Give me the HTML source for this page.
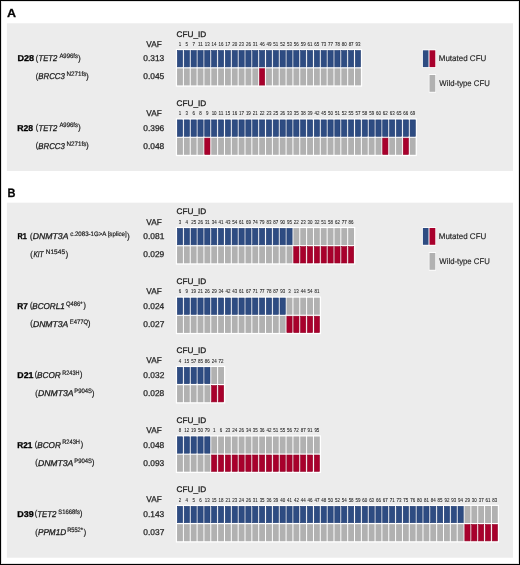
<!DOCTYPE html>
<html><head><meta charset="utf-8"><style>
html,body{margin:0;padding:0;background:#fff;overflow:hidden;width:520px;height:565px;}
svg{display:block;will-change:transform;}
text{text-rendering:geometricPrecision;font-family:"Liberation Sans",sans-serif;fill:#1e1e1e;stroke:#1e1e1e;stroke-width:0.3px;}
</style></head><body>
<svg width="520" height="565" viewBox="0 0 520 565">
<rect x="0" y="0" width="520" height="565" fill="#fff"/>
<rect x="1.5" y="1.5" width="517" height="562" fill="none" stroke="#e2e2e2" stroke-width="1"/>
<rect x="0.5" y="0.5" width="519" height="564" fill="none" stroke="#000" stroke-width="1"/>
<rect x="6.9" y="23.3" width="506.1" height="147.7" fill="#ececec"/>
<text x="7.09" y="16.80" textLength="9.04" lengthAdjust="spacingAndGlyphs" style="font-size:11.77px;font-weight:bold;fill:#000;">A</text>
<rect x="175.80" y="49.00" width="186.32" height="37.70" fill="#fff"/>
<rect x="177.35" y="50.50" width="5.25" height="16.40" fill="#2e4c82" stroke="#203c72" stroke-width="0.6"/>
<rect x="177.05" y="68.40" width="5.85" height="17.0" fill="#b1b1b1"/>
<text x="178.67" y="45.80" textLength="2.48" lengthAdjust="spacingAndGlyphs" style="font-size:4.85px;stroke:#262626;stroke-width:0.08px;text-rendering:optimizeLegibility;fill:#262626;">1</text>
<rect x="184.20" y="50.50" width="5.25" height="16.40" fill="#2e4c82" stroke="#203c72" stroke-width="0.6"/>
<rect x="183.90" y="68.40" width="5.85" height="17.0" fill="#b1b1b1"/>
<text x="185.58" y="45.80" textLength="2.48" lengthAdjust="spacingAndGlyphs" style="font-size:4.85px;stroke:#262626;stroke-width:0.08px;text-rendering:optimizeLegibility;fill:#262626;">5</text>
<rect x="191.04" y="50.50" width="5.25" height="16.40" fill="#2e4c82" stroke="#203c72" stroke-width="0.6"/>
<rect x="190.74" y="68.40" width="5.85" height="17.0" fill="#b1b1b1"/>
<text x="192.42" y="45.80" textLength="2.48" lengthAdjust="spacingAndGlyphs" style="font-size:4.85px;stroke:#262626;stroke-width:0.08px;text-rendering:optimizeLegibility;fill:#262626;">7</text>
<rect x="197.89" y="50.50" width="5.25" height="16.40" fill="#2e4c82" stroke="#203c72" stroke-width="0.6"/>
<rect x="197.59" y="68.40" width="5.85" height="17.0" fill="#b1b1b1"/>
<text x="197.97" y="45.80" textLength="4.96" lengthAdjust="spacingAndGlyphs" style="font-size:4.85px;stroke:#262626;stroke-width:0.08px;text-rendering:optimizeLegibility;fill:#262626;">11</text>
<rect x="204.73" y="50.50" width="5.25" height="16.40" fill="#2e4c82" stroke="#203c72" stroke-width="0.6"/>
<rect x="204.43" y="68.40" width="5.85" height="17.0" fill="#b1b1b1"/>
<text x="204.80" y="45.80" textLength="4.96" lengthAdjust="spacingAndGlyphs" style="font-size:4.85px;stroke:#262626;stroke-width:0.08px;text-rendering:optimizeLegibility;fill:#262626;">13</text>
<rect x="211.58" y="50.50" width="5.25" height="16.40" fill="#2e4c82" stroke="#203c72" stroke-width="0.6"/>
<rect x="211.28" y="68.40" width="5.85" height="17.0" fill="#b1b1b1"/>
<text x="211.61" y="45.80" textLength="4.96" lengthAdjust="spacingAndGlyphs" style="font-size:4.85px;stroke:#262626;stroke-width:0.08px;text-rendering:optimizeLegibility;fill:#262626;">14</text>
<rect x="218.42" y="50.50" width="5.25" height="16.40" fill="#2e4c82" stroke="#203c72" stroke-width="0.6"/>
<rect x="218.12" y="68.40" width="5.85" height="17.0" fill="#b1b1b1"/>
<text x="218.49" y="45.80" textLength="4.96" lengthAdjust="spacingAndGlyphs" style="font-size:4.85px;stroke:#262626;stroke-width:0.08px;text-rendering:optimizeLegibility;fill:#262626;">16</text>
<rect x="225.27" y="50.50" width="5.25" height="16.40" fill="#2e4c82" stroke="#203c72" stroke-width="0.6"/>
<rect x="224.97" y="68.40" width="5.85" height="17.0" fill="#b1b1b1"/>
<text x="225.35" y="45.80" textLength="4.96" lengthAdjust="spacingAndGlyphs" style="font-size:4.85px;stroke:#262626;stroke-width:0.08px;text-rendering:optimizeLegibility;fill:#262626;">17</text>
<rect x="232.11" y="50.50" width="5.25" height="16.40" fill="#2e4c82" stroke="#203c72" stroke-width="0.6"/>
<rect x="231.81" y="68.40" width="5.85" height="17.0" fill="#b1b1b1"/>
<text x="232.23" y="45.80" textLength="4.96" lengthAdjust="spacingAndGlyphs" style="font-size:4.85px;stroke:#262626;stroke-width:0.08px;text-rendering:optimizeLegibility;fill:#262626;">20</text>
<rect x="238.96" y="50.50" width="5.25" height="16.40" fill="#2e4c82" stroke="#203c72" stroke-width="0.6"/>
<rect x="238.66" y="68.40" width="5.85" height="17.0" fill="#b1b1b1"/>
<text x="239.08" y="45.80" textLength="4.96" lengthAdjust="spacingAndGlyphs" style="font-size:4.85px;stroke:#262626;stroke-width:0.08px;text-rendering:optimizeLegibility;fill:#262626;">23</text>
<rect x="245.80" y="50.50" width="5.25" height="16.40" fill="#2e4c82" stroke="#203c72" stroke-width="0.6"/>
<rect x="245.50" y="68.40" width="5.85" height="17.0" fill="#b1b1b1"/>
<text x="245.93" y="45.80" textLength="4.96" lengthAdjust="spacingAndGlyphs" style="font-size:4.85px;stroke:#262626;stroke-width:0.08px;text-rendering:optimizeLegibility;fill:#262626;">26</text>
<rect x="252.65" y="50.50" width="5.25" height="16.40" fill="#2e4c82" stroke="#203c72" stroke-width="0.6"/>
<rect x="252.35" y="68.40" width="5.85" height="17.0" fill="#b1b1b1"/>
<text x="252.81" y="45.80" textLength="4.96" lengthAdjust="spacingAndGlyphs" style="font-size:4.85px;stroke:#262626;stroke-width:0.08px;text-rendering:optimizeLegibility;fill:#262626;">31</text>
<rect x="259.49" y="50.50" width="5.25" height="16.40" fill="#2e4c82" stroke="#203c72" stroke-width="0.6"/>
<rect x="259.49" y="68.70" width="5.25" height="16.40" fill="#a8002c" stroke="#940026" stroke-width="0.6"/>
<text x="259.68" y="45.80" textLength="4.96" lengthAdjust="spacingAndGlyphs" style="font-size:4.85px;stroke:#262626;stroke-width:0.08px;text-rendering:optimizeLegibility;fill:#262626;">46</text>
<rect x="266.34" y="50.50" width="5.25" height="16.40" fill="#2e4c82" stroke="#203c72" stroke-width="0.6"/>
<rect x="266.04" y="68.40" width="5.85" height="17.0" fill="#b1b1b1"/>
<text x="266.53" y="45.80" textLength="4.96" lengthAdjust="spacingAndGlyphs" style="font-size:4.85px;stroke:#262626;stroke-width:0.08px;text-rendering:optimizeLegibility;fill:#262626;">49</text>
<rect x="273.18" y="50.50" width="5.25" height="16.40" fill="#2e4c82" stroke="#203c72" stroke-width="0.6"/>
<rect x="272.88" y="68.40" width="5.85" height="17.0" fill="#b1b1b1"/>
<text x="273.34" y="45.80" textLength="4.96" lengthAdjust="spacingAndGlyphs" style="font-size:4.85px;stroke:#262626;stroke-width:0.08px;text-rendering:optimizeLegibility;fill:#262626;">51</text>
<rect x="280.03" y="50.50" width="5.25" height="16.40" fill="#2e4c82" stroke="#203c72" stroke-width="0.6"/>
<rect x="279.73" y="68.40" width="5.85" height="17.0" fill="#b1b1b1"/>
<text x="280.19" y="45.80" textLength="4.96" lengthAdjust="spacingAndGlyphs" style="font-size:4.85px;stroke:#262626;stroke-width:0.08px;text-rendering:optimizeLegibility;fill:#262626;">52</text>
<rect x="286.87" y="50.50" width="5.25" height="16.40" fill="#2e4c82" stroke="#203c72" stroke-width="0.6"/>
<rect x="286.57" y="68.40" width="5.85" height="17.0" fill="#b1b1b1"/>
<text x="287.02" y="45.80" textLength="4.96" lengthAdjust="spacingAndGlyphs" style="font-size:4.85px;stroke:#262626;stroke-width:0.08px;text-rendering:optimizeLegibility;fill:#262626;">53</text>
<rect x="293.72" y="50.50" width="5.25" height="16.40" fill="#2e4c82" stroke="#203c72" stroke-width="0.6"/>
<rect x="293.42" y="68.40" width="5.85" height="17.0" fill="#b1b1b1"/>
<text x="293.87" y="45.80" textLength="4.96" lengthAdjust="spacingAndGlyphs" style="font-size:4.85px;stroke:#262626;stroke-width:0.08px;text-rendering:optimizeLegibility;fill:#262626;">56</text>
<rect x="300.56" y="50.50" width="5.25" height="16.40" fill="#2e4c82" stroke="#203c72" stroke-width="0.6"/>
<rect x="300.26" y="68.40" width="5.85" height="17.0" fill="#b1b1b1"/>
<text x="300.72" y="45.80" textLength="4.96" lengthAdjust="spacingAndGlyphs" style="font-size:4.85px;stroke:#262626;stroke-width:0.08px;text-rendering:optimizeLegibility;fill:#262626;">59</text>
<rect x="307.41" y="50.50" width="5.25" height="16.40" fill="#2e4c82" stroke="#203c72" stroke-width="0.6"/>
<rect x="307.11" y="68.40" width="5.85" height="17.0" fill="#b1b1b1"/>
<text x="307.54" y="45.80" textLength="4.96" lengthAdjust="spacingAndGlyphs" style="font-size:4.85px;stroke:#262626;stroke-width:0.08px;text-rendering:optimizeLegibility;fill:#262626;">61</text>
<rect x="314.25" y="50.50" width="5.25" height="16.40" fill="#2e4c82" stroke="#203c72" stroke-width="0.6"/>
<rect x="313.95" y="68.40" width="5.85" height="17.0" fill="#b1b1b1"/>
<text x="314.37" y="45.80" textLength="4.96" lengthAdjust="spacingAndGlyphs" style="font-size:4.85px;stroke:#262626;stroke-width:0.08px;text-rendering:optimizeLegibility;fill:#262626;">65</text>
<rect x="321.10" y="50.50" width="5.25" height="16.40" fill="#2e4c82" stroke="#203c72" stroke-width="0.6"/>
<rect x="320.80" y="68.40" width="5.85" height="17.0" fill="#b1b1b1"/>
<text x="321.22" y="45.80" textLength="4.96" lengthAdjust="spacingAndGlyphs" style="font-size:4.85px;stroke:#262626;stroke-width:0.08px;text-rendering:optimizeLegibility;fill:#262626;">73</text>
<rect x="327.94" y="50.50" width="5.25" height="16.40" fill="#2e4c82" stroke="#203c72" stroke-width="0.6"/>
<rect x="327.64" y="68.40" width="5.85" height="17.0" fill="#b1b1b1"/>
<text x="328.08" y="45.80" textLength="4.96" lengthAdjust="spacingAndGlyphs" style="font-size:4.85px;stroke:#262626;stroke-width:0.08px;text-rendering:optimizeLegibility;fill:#262626;">77</text>
<rect x="334.79" y="50.50" width="5.25" height="16.40" fill="#2e4c82" stroke="#203c72" stroke-width="0.6"/>
<rect x="334.49" y="68.40" width="5.85" height="17.0" fill="#b1b1b1"/>
<text x="334.91" y="45.80" textLength="4.96" lengthAdjust="spacingAndGlyphs" style="font-size:4.85px;stroke:#262626;stroke-width:0.08px;text-rendering:optimizeLegibility;fill:#262626;">78</text>
<rect x="341.63" y="50.50" width="5.25" height="16.40" fill="#2e4c82" stroke="#203c72" stroke-width="0.6"/>
<rect x="341.33" y="68.40" width="5.85" height="17.0" fill="#b1b1b1"/>
<text x="341.76" y="45.80" textLength="4.96" lengthAdjust="spacingAndGlyphs" style="font-size:4.85px;stroke:#262626;stroke-width:0.08px;text-rendering:optimizeLegibility;fill:#262626;">80</text>
<rect x="348.48" y="50.50" width="5.25" height="16.40" fill="#2e4c82" stroke="#203c72" stroke-width="0.6"/>
<rect x="348.18" y="68.40" width="5.85" height="17.0" fill="#b1b1b1"/>
<text x="348.63" y="45.80" textLength="4.96" lengthAdjust="spacingAndGlyphs" style="font-size:4.85px;stroke:#262626;stroke-width:0.08px;text-rendering:optimizeLegibility;fill:#262626;">87</text>
<rect x="355.32" y="50.50" width="5.25" height="16.40" fill="#2e4c82" stroke="#203c72" stroke-width="0.6"/>
<rect x="355.02" y="68.40" width="5.85" height="17.0" fill="#b1b1b1"/>
<text x="355.46" y="45.80" textLength="4.96" lengthAdjust="spacingAndGlyphs" style="font-size:4.85px;stroke:#262626;stroke-width:0.08px;text-rendering:optimizeLegibility;fill:#262626;">93</text>
<text x="176.58" y="36.50" textLength="29.61" lengthAdjust="spacingAndGlyphs" style="font-size:8.14px;">CFU_ID</text>
<text x="146.37" y="46.60" textLength="15.45" lengthAdjust="spacingAndGlyphs" style="font-size:8.43px;stroke-width:0.25px;">VAF</text>
<text x="17.49" y="61.20" textLength="16.69" lengthAdjust="spacingAndGlyphs" style="font-size:8.50px;stroke:#000;font-weight:bold;fill:#000;">D28</text>
<text x="35.86" y="60.50" textLength="2.39" lengthAdjust="spacingAndGlyphs" style="font-size:8.30px;stroke-width:0.3px;">(</text>
<text x="38.51" y="61.20" textLength="18.80" lengthAdjust="spacingAndGlyphs" style="font-size:8.50px;stroke-width:0.3px;font-style:italic;">TET2</text>
<text x="59.39" y="58.00" textLength="18.63" lengthAdjust="spacingAndGlyphs" style="font-size:6.40px;stroke-width:0.2px;">A996fs</text>
<text x="78.16" y="60.50" textLength="2.39" lengthAdjust="spacingAndGlyphs" style="font-size:8.30px;stroke-width:0.3px;">)</text>
<text x="35.86" y="78.60" textLength="2.39" lengthAdjust="spacingAndGlyphs" style="font-size:8.30px;stroke-width:0.3px;">(</text>
<text x="38.36" y="79.30" textLength="26.41" lengthAdjust="spacingAndGlyphs" style="font-size:8.50px;stroke-width:0.3px;font-style:italic;">BRCC3</text>
<text x="66.49" y="76.10" textLength="19.84" lengthAdjust="spacingAndGlyphs" style="font-size:6.40px;stroke-width:0.2px;">N271fs</text>
<text x="86.16" y="78.60" textLength="2.39" lengthAdjust="spacingAndGlyphs" style="font-size:8.30px;stroke-width:0.3px;">)</text>
<text x="143.31" y="61.20" style="font-size:8.40px;stroke-width:0.25px;">0.313</text>
<text x="143.30" y="79.30" style="font-size:8.40px;stroke-width:0.25px;">0.045</text>
<rect x="175.80" y="118.40" width="241.08" height="37.70" fill="#fff"/>
<rect x="177.35" y="119.90" width="5.25" height="16.40" fill="#2e4c82" stroke="#203c72" stroke-width="0.6"/>
<rect x="177.05" y="137.80" width="5.85" height="17.0" fill="#b1b1b1"/>
<text x="178.67" y="115.20" textLength="2.48" lengthAdjust="spacingAndGlyphs" style="font-size:4.85px;stroke:#262626;stroke-width:0.08px;text-rendering:optimizeLegibility;fill:#262626;">1</text>
<rect x="184.20" y="119.90" width="5.25" height="16.40" fill="#2e4c82" stroke="#203c72" stroke-width="0.6"/>
<rect x="183.90" y="137.80" width="5.85" height="17.0" fill="#b1b1b1"/>
<text x="185.59" y="115.20" textLength="2.48" lengthAdjust="spacingAndGlyphs" style="font-size:4.85px;stroke:#262626;stroke-width:0.08px;text-rendering:optimizeLegibility;fill:#262626;">3</text>
<rect x="191.04" y="119.90" width="5.25" height="16.40" fill="#2e4c82" stroke="#203c72" stroke-width="0.6"/>
<rect x="190.74" y="137.80" width="5.85" height="17.0" fill="#b1b1b1"/>
<text x="192.41" y="115.20" textLength="2.48" lengthAdjust="spacingAndGlyphs" style="font-size:4.85px;stroke:#262626;stroke-width:0.08px;text-rendering:optimizeLegibility;fill:#262626;">6</text>
<rect x="197.89" y="119.90" width="5.25" height="16.40" fill="#2e4c82" stroke="#203c72" stroke-width="0.6"/>
<rect x="197.59" y="137.80" width="5.85" height="17.0" fill="#b1b1b1"/>
<text x="199.27" y="115.20" textLength="2.48" lengthAdjust="spacingAndGlyphs" style="font-size:4.85px;stroke:#262626;stroke-width:0.08px;text-rendering:optimizeLegibility;fill:#262626;">8</text>
<rect x="204.73" y="119.90" width="5.25" height="16.40" fill="#2e4c82" stroke="#203c72" stroke-width="0.6"/>
<rect x="204.73" y="138.10" width="5.25" height="16.40" fill="#a8002c" stroke="#940026" stroke-width="0.6"/>
<text x="206.12" y="115.20" textLength="2.48" lengthAdjust="spacingAndGlyphs" style="font-size:4.85px;stroke:#262626;stroke-width:0.08px;text-rendering:optimizeLegibility;fill:#262626;">9</text>
<rect x="211.58" y="119.90" width="5.25" height="16.40" fill="#2e4c82" stroke="#203c72" stroke-width="0.6"/>
<rect x="211.28" y="137.80" width="5.85" height="17.0" fill="#b1b1b1"/>
<text x="211.64" y="115.20" textLength="4.96" lengthAdjust="spacingAndGlyphs" style="font-size:4.85px;stroke:#262626;stroke-width:0.08px;text-rendering:optimizeLegibility;fill:#262626;">10</text>
<rect x="218.42" y="119.90" width="5.25" height="16.40" fill="#2e4c82" stroke="#203c72" stroke-width="0.6"/>
<rect x="218.12" y="137.80" width="5.85" height="17.0" fill="#b1b1b1"/>
<text x="218.50" y="115.20" textLength="4.96" lengthAdjust="spacingAndGlyphs" style="font-size:4.85px;stroke:#262626;stroke-width:0.08px;text-rendering:optimizeLegibility;fill:#262626;">11</text>
<rect x="225.27" y="119.90" width="5.25" height="16.40" fill="#2e4c82" stroke="#203c72" stroke-width="0.6"/>
<rect x="224.97" y="137.80" width="5.85" height="17.0" fill="#b1b1b1"/>
<text x="225.33" y="115.20" textLength="4.96" lengthAdjust="spacingAndGlyphs" style="font-size:4.85px;stroke:#262626;stroke-width:0.08px;text-rendering:optimizeLegibility;fill:#262626;">15</text>
<rect x="232.11" y="119.90" width="5.25" height="16.40" fill="#2e4c82" stroke="#203c72" stroke-width="0.6"/>
<rect x="231.81" y="137.80" width="5.85" height="17.0" fill="#b1b1b1"/>
<text x="232.18" y="115.20" textLength="4.96" lengthAdjust="spacingAndGlyphs" style="font-size:4.85px;stroke:#262626;stroke-width:0.08px;text-rendering:optimizeLegibility;fill:#262626;">16</text>
<rect x="238.96" y="119.90" width="5.25" height="16.40" fill="#2e4c82" stroke="#203c72" stroke-width="0.6"/>
<rect x="238.66" y="137.80" width="5.85" height="17.0" fill="#b1b1b1"/>
<text x="239.04" y="115.20" textLength="4.96" lengthAdjust="spacingAndGlyphs" style="font-size:4.85px;stroke:#262626;stroke-width:0.08px;text-rendering:optimizeLegibility;fill:#262626;">17</text>
<rect x="245.80" y="119.90" width="5.25" height="16.40" fill="#2e4c82" stroke="#203c72" stroke-width="0.6"/>
<rect x="245.50" y="137.80" width="5.85" height="17.0" fill="#b1b1b1"/>
<text x="245.88" y="115.20" textLength="4.96" lengthAdjust="spacingAndGlyphs" style="font-size:4.85px;stroke:#262626;stroke-width:0.08px;text-rendering:optimizeLegibility;fill:#262626;">19</text>
<rect x="252.65" y="119.90" width="5.25" height="16.40" fill="#2e4c82" stroke="#203c72" stroke-width="0.6"/>
<rect x="252.35" y="137.80" width="5.85" height="17.0" fill="#b1b1b1"/>
<text x="252.79" y="115.20" textLength="4.96" lengthAdjust="spacingAndGlyphs" style="font-size:4.85px;stroke:#262626;stroke-width:0.08px;text-rendering:optimizeLegibility;fill:#262626;">21</text>
<rect x="259.49" y="119.90" width="5.25" height="16.40" fill="#2e4c82" stroke="#203c72" stroke-width="0.6"/>
<rect x="259.19" y="137.80" width="5.85" height="17.0" fill="#b1b1b1"/>
<text x="259.63" y="115.20" textLength="4.96" lengthAdjust="spacingAndGlyphs" style="font-size:4.85px;stroke:#262626;stroke-width:0.08px;text-rendering:optimizeLegibility;fill:#262626;">22</text>
<rect x="266.34" y="119.90" width="5.25" height="16.40" fill="#2e4c82" stroke="#203c72" stroke-width="0.6"/>
<rect x="266.04" y="137.80" width="5.85" height="17.0" fill="#b1b1b1"/>
<text x="266.46" y="115.20" textLength="4.96" lengthAdjust="spacingAndGlyphs" style="font-size:4.85px;stroke:#262626;stroke-width:0.08px;text-rendering:optimizeLegibility;fill:#262626;">23</text>
<rect x="273.18" y="119.90" width="5.25" height="16.40" fill="#2e4c82" stroke="#203c72" stroke-width="0.6"/>
<rect x="272.88" y="137.80" width="5.85" height="17.0" fill="#b1b1b1"/>
<text x="273.30" y="115.20" textLength="4.96" lengthAdjust="spacingAndGlyphs" style="font-size:4.85px;stroke:#262626;stroke-width:0.08px;text-rendering:optimizeLegibility;fill:#262626;">25</text>
<rect x="280.03" y="119.90" width="5.25" height="16.40" fill="#2e4c82" stroke="#203c72" stroke-width="0.6"/>
<rect x="279.73" y="137.80" width="5.85" height="17.0" fill="#b1b1b1"/>
<text x="280.15" y="115.20" textLength="4.96" lengthAdjust="spacingAndGlyphs" style="font-size:4.85px;stroke:#262626;stroke-width:0.08px;text-rendering:optimizeLegibility;fill:#262626;">26</text>
<rect x="286.87" y="119.90" width="5.25" height="16.40" fill="#2e4c82" stroke="#203c72" stroke-width="0.6"/>
<rect x="286.57" y="137.80" width="5.85" height="17.0" fill="#b1b1b1"/>
<text x="287.03" y="115.20" textLength="4.96" lengthAdjust="spacingAndGlyphs" style="font-size:4.85px;stroke:#262626;stroke-width:0.08px;text-rendering:optimizeLegibility;fill:#262626;">33</text>
<rect x="293.72" y="119.90" width="5.25" height="16.40" fill="#2e4c82" stroke="#203c72" stroke-width="0.6"/>
<rect x="293.42" y="137.80" width="5.85" height="17.0" fill="#b1b1b1"/>
<text x="293.87" y="115.20" textLength="4.96" lengthAdjust="spacingAndGlyphs" style="font-size:4.85px;stroke:#262626;stroke-width:0.08px;text-rendering:optimizeLegibility;fill:#262626;">35</text>
<rect x="300.56" y="119.90" width="5.25" height="16.40" fill="#2e4c82" stroke="#203c72" stroke-width="0.6"/>
<rect x="300.26" y="137.80" width="5.85" height="17.0" fill="#b1b1b1"/>
<text x="300.72" y="115.20" textLength="4.96" lengthAdjust="spacingAndGlyphs" style="font-size:4.85px;stroke:#262626;stroke-width:0.08px;text-rendering:optimizeLegibility;fill:#262626;">38</text>
<rect x="307.41" y="119.90" width="5.25" height="16.40" fill="#2e4c82" stroke="#203c72" stroke-width="0.6"/>
<rect x="307.11" y="137.80" width="5.85" height="17.0" fill="#b1b1b1"/>
<text x="307.57" y="115.20" textLength="4.96" lengthAdjust="spacingAndGlyphs" style="font-size:4.85px;stroke:#262626;stroke-width:0.08px;text-rendering:optimizeLegibility;fill:#262626;">39</text>
<rect x="314.25" y="119.90" width="5.25" height="16.40" fill="#2e4c82" stroke="#203c72" stroke-width="0.6"/>
<rect x="313.95" y="137.80" width="5.85" height="17.0" fill="#b1b1b1"/>
<text x="314.45" y="115.20" textLength="4.96" lengthAdjust="spacingAndGlyphs" style="font-size:4.85px;stroke:#262626;stroke-width:0.08px;text-rendering:optimizeLegibility;fill:#262626;">42</text>
<rect x="321.10" y="119.90" width="5.25" height="16.40" fill="#2e4c82" stroke="#203c72" stroke-width="0.6"/>
<rect x="320.80" y="137.80" width="5.85" height="17.0" fill="#b1b1b1"/>
<text x="321.28" y="115.20" textLength="4.96" lengthAdjust="spacingAndGlyphs" style="font-size:4.85px;stroke:#262626;stroke-width:0.08px;text-rendering:optimizeLegibility;fill:#262626;">45</text>
<rect x="327.94" y="119.90" width="5.25" height="16.40" fill="#2e4c82" stroke="#203c72" stroke-width="0.6"/>
<rect x="327.64" y="137.80" width="5.85" height="17.0" fill="#b1b1b1"/>
<text x="328.08" y="115.20" textLength="4.96" lengthAdjust="spacingAndGlyphs" style="font-size:4.85px;stroke:#262626;stroke-width:0.08px;text-rendering:optimizeLegibility;fill:#262626;">50</text>
<rect x="334.79" y="119.90" width="5.25" height="16.40" fill="#2e4c82" stroke="#203c72" stroke-width="0.6"/>
<rect x="334.49" y="137.80" width="5.85" height="17.0" fill="#b1b1b1"/>
<text x="334.95" y="115.20" textLength="4.96" lengthAdjust="spacingAndGlyphs" style="font-size:4.85px;stroke:#262626;stroke-width:0.08px;text-rendering:optimizeLegibility;fill:#262626;">51</text>
<rect x="341.63" y="119.90" width="5.25" height="16.40" fill="#2e4c82" stroke="#203c72" stroke-width="0.6"/>
<rect x="341.33" y="137.80" width="5.85" height="17.0" fill="#b1b1b1"/>
<text x="341.80" y="115.20" textLength="4.96" lengthAdjust="spacingAndGlyphs" style="font-size:4.85px;stroke:#262626;stroke-width:0.08px;text-rendering:optimizeLegibility;fill:#262626;">52</text>
<rect x="348.48" y="119.90" width="5.25" height="16.40" fill="#2e4c82" stroke="#203c72" stroke-width="0.6"/>
<rect x="348.18" y="137.80" width="5.85" height="17.0" fill="#b1b1b1"/>
<text x="348.62" y="115.20" textLength="4.96" lengthAdjust="spacingAndGlyphs" style="font-size:4.85px;stroke:#262626;stroke-width:0.08px;text-rendering:optimizeLegibility;fill:#262626;">55</text>
<rect x="355.32" y="119.90" width="5.25" height="16.40" fill="#2e4c82" stroke="#203c72" stroke-width="0.6"/>
<rect x="355.02" y="137.80" width="5.85" height="17.0" fill="#b1b1b1"/>
<text x="355.49" y="115.20" textLength="4.96" lengthAdjust="spacingAndGlyphs" style="font-size:4.85px;stroke:#262626;stroke-width:0.08px;text-rendering:optimizeLegibility;fill:#262626;">57</text>
<rect x="362.17" y="119.90" width="5.25" height="16.40" fill="#2e4c82" stroke="#203c72" stroke-width="0.6"/>
<rect x="361.87" y="137.80" width="5.85" height="17.0" fill="#b1b1b1"/>
<text x="362.32" y="115.20" textLength="4.96" lengthAdjust="spacingAndGlyphs" style="font-size:4.85px;stroke:#262626;stroke-width:0.08px;text-rendering:optimizeLegibility;fill:#262626;">58</text>
<rect x="369.01" y="119.90" width="5.25" height="16.40" fill="#2e4c82" stroke="#203c72" stroke-width="0.6"/>
<rect x="368.71" y="137.80" width="5.85" height="17.0" fill="#b1b1b1"/>
<text x="369.17" y="115.20" textLength="4.96" lengthAdjust="spacingAndGlyphs" style="font-size:4.85px;stroke:#262626;stroke-width:0.08px;text-rendering:optimizeLegibility;fill:#262626;">59</text>
<rect x="375.86" y="119.90" width="5.25" height="16.40" fill="#2e4c82" stroke="#203c72" stroke-width="0.6"/>
<rect x="375.56" y="137.80" width="5.85" height="17.0" fill="#b1b1b1"/>
<text x="375.97" y="115.20" textLength="4.96" lengthAdjust="spacingAndGlyphs" style="font-size:4.85px;stroke:#262626;stroke-width:0.08px;text-rendering:optimizeLegibility;fill:#262626;">60</text>
<rect x="382.70" y="119.90" width="5.25" height="16.40" fill="#2e4c82" stroke="#203c72" stroke-width="0.6"/>
<rect x="382.70" y="138.10" width="5.25" height="16.40" fill="#a8002c" stroke="#940026" stroke-width="0.6"/>
<text x="382.84" y="115.20" textLength="4.96" lengthAdjust="spacingAndGlyphs" style="font-size:4.85px;stroke:#262626;stroke-width:0.08px;text-rendering:optimizeLegibility;fill:#262626;">62</text>
<rect x="389.55" y="119.90" width="5.25" height="16.40" fill="#2e4c82" stroke="#203c72" stroke-width="0.6"/>
<rect x="389.25" y="137.80" width="5.85" height="17.0" fill="#b1b1b1"/>
<text x="389.67" y="115.20" textLength="4.96" lengthAdjust="spacingAndGlyphs" style="font-size:4.85px;stroke:#262626;stroke-width:0.08px;text-rendering:optimizeLegibility;fill:#262626;">63</text>
<rect x="396.39" y="119.90" width="5.25" height="16.40" fill="#2e4c82" stroke="#203c72" stroke-width="0.6"/>
<rect x="396.09" y="137.80" width="5.85" height="17.0" fill="#b1b1b1"/>
<text x="396.51" y="115.20" textLength="4.96" lengthAdjust="spacingAndGlyphs" style="font-size:4.85px;stroke:#262626;stroke-width:0.08px;text-rendering:optimizeLegibility;fill:#262626;">65</text>
<rect x="403.24" y="119.90" width="5.25" height="16.40" fill="#2e4c82" stroke="#203c72" stroke-width="0.6"/>
<rect x="403.24" y="138.10" width="5.25" height="16.40" fill="#a8002c" stroke="#940026" stroke-width="0.6"/>
<text x="403.36" y="115.20" textLength="4.96" lengthAdjust="spacingAndGlyphs" style="font-size:4.85px;stroke:#262626;stroke-width:0.08px;text-rendering:optimizeLegibility;fill:#262626;">66</text>
<rect x="410.08" y="119.90" width="5.25" height="16.40" fill="#2e4c82" stroke="#203c72" stroke-width="0.6"/>
<rect x="409.78" y="137.80" width="5.85" height="17.0" fill="#b1b1b1"/>
<text x="410.22" y="115.20" textLength="4.96" lengthAdjust="spacingAndGlyphs" style="font-size:4.85px;stroke:#262626;stroke-width:0.08px;text-rendering:optimizeLegibility;fill:#262626;">69</text>
<text x="176.58" y="105.90" textLength="29.61" lengthAdjust="spacingAndGlyphs" style="font-size:8.14px;">CFU_ID</text>
<text x="146.37" y="116.00" textLength="15.45" lengthAdjust="spacingAndGlyphs" style="font-size:8.43px;stroke-width:0.25px;">VAF</text>
<text x="17.32" y="130.60" textLength="15.84" lengthAdjust="spacingAndGlyphs" style="font-size:8.50px;stroke:#000;font-weight:bold;fill:#000;">R28</text>
<text x="35.86" y="129.90" textLength="2.39" lengthAdjust="spacingAndGlyphs" style="font-size:8.30px;stroke-width:0.3px;">(</text>
<text x="38.51" y="130.60" textLength="18.80" lengthAdjust="spacingAndGlyphs" style="font-size:8.50px;stroke-width:0.3px;font-style:italic;">TET2</text>
<text x="59.39" y="127.40" textLength="18.63" lengthAdjust="spacingAndGlyphs" style="font-size:6.40px;stroke-width:0.2px;">A996fs</text>
<text x="78.16" y="129.90" textLength="2.39" lengthAdjust="spacingAndGlyphs" style="font-size:8.30px;stroke-width:0.3px;">)</text>
<text x="35.86" y="148.00" textLength="2.39" lengthAdjust="spacingAndGlyphs" style="font-size:8.30px;stroke-width:0.3px;">(</text>
<text x="38.36" y="148.70" textLength="26.41" lengthAdjust="spacingAndGlyphs" style="font-size:8.50px;stroke-width:0.3px;font-style:italic;">BRCC3</text>
<text x="66.49" y="145.50" textLength="19.84" lengthAdjust="spacingAndGlyphs" style="font-size:6.40px;stroke-width:0.2px;">N271fs</text>
<text x="86.16" y="148.00" textLength="2.39" lengthAdjust="spacingAndGlyphs" style="font-size:8.30px;stroke-width:0.3px;">)</text>
<text x="143.31" y="130.60" style="font-size:8.40px;stroke-width:0.25px;">0.396</text>
<text x="143.31" y="148.70" style="font-size:8.40px;stroke-width:0.25px;">0.048</text>
<rect x="422.2" y="49.50" width="13.8" height="18.4" fill="#fff"/>
<rect x="422.9" y="50.30" width="5.6" height="16.8" fill="#2e4c82"/>
<rect x="429.5" y="50.30" width="5.8" height="16.8" fill="#a8002c"/>
<text x="438.74" y="61.40" textLength="47.57" lengthAdjust="spacingAndGlyphs" style="font-size:8.29px;stroke-width:0.15px;">Mutated CFU</text>
<rect x="428.8" y="74.20" width="7.2" height="18.4" fill="#fff"/>
<rect x="429.5" y="75.00" width="5.8" height="16.8" fill="#b1b1b1"/>
<text x="439.37" y="86.00" textLength="50.43" lengthAdjust="spacingAndGlyphs" style="font-size:8.29px;stroke-width:0.15px;">Wild-type CFU</text>
<rect x="6.9" y="202.7" width="506.1" height="355.0" fill="#ececec"/>
<text x="7.41" y="196.50" textLength="7.99" lengthAdjust="spacingAndGlyphs" style="font-size:12.21px;font-weight:bold;fill:#000;">B</text>
<rect x="175.80" y="226.90" width="179.47" height="37.70" fill="#fff"/>
<rect x="177.35" y="228.40" width="5.25" height="16.40" fill="#2e4c82" stroke="#203c72" stroke-width="0.6"/>
<rect x="177.05" y="246.30" width="5.85" height="17.0" fill="#b1b1b1"/>
<text x="178.75" y="223.70" textLength="2.48" lengthAdjust="spacingAndGlyphs" style="font-size:4.85px;stroke:#262626;stroke-width:0.08px;text-rendering:optimizeLegibility;fill:#262626;">3</text>
<rect x="184.20" y="228.40" width="5.25" height="16.40" fill="#2e4c82" stroke="#203c72" stroke-width="0.6"/>
<rect x="183.90" y="246.30" width="5.85" height="17.0" fill="#b1b1b1"/>
<text x="185.59" y="223.70" textLength="2.48" lengthAdjust="spacingAndGlyphs" style="font-size:4.85px;stroke:#262626;stroke-width:0.08px;text-rendering:optimizeLegibility;fill:#262626;">4</text>
<rect x="191.04" y="228.40" width="5.25" height="16.40" fill="#2e4c82" stroke="#203c72" stroke-width="0.6"/>
<rect x="190.74" y="246.30" width="5.85" height="17.0" fill="#b1b1b1"/>
<text x="191.16" y="223.70" textLength="4.96" lengthAdjust="spacingAndGlyphs" style="font-size:4.85px;stroke:#262626;stroke-width:0.08px;text-rendering:optimizeLegibility;fill:#262626;">25</text>
<rect x="197.89" y="228.40" width="5.25" height="16.40" fill="#2e4c82" stroke="#203c72" stroke-width="0.6"/>
<rect x="197.59" y="246.30" width="5.85" height="17.0" fill="#b1b1b1"/>
<text x="198.01" y="223.70" textLength="4.96" lengthAdjust="spacingAndGlyphs" style="font-size:4.85px;stroke:#262626;stroke-width:0.08px;text-rendering:optimizeLegibility;fill:#262626;">26</text>
<rect x="204.73" y="228.40" width="5.25" height="16.40" fill="#2e4c82" stroke="#203c72" stroke-width="0.6"/>
<rect x="204.43" y="246.30" width="5.85" height="17.0" fill="#b1b1b1"/>
<text x="204.90" y="223.70" textLength="4.96" lengthAdjust="spacingAndGlyphs" style="font-size:4.85px;stroke:#262626;stroke-width:0.08px;text-rendering:optimizeLegibility;fill:#262626;">31</text>
<rect x="211.58" y="228.40" width="5.25" height="16.40" fill="#2e4c82" stroke="#203c72" stroke-width="0.6"/>
<rect x="211.28" y="246.30" width="5.85" height="17.0" fill="#b1b1b1"/>
<text x="211.70" y="223.70" textLength="4.96" lengthAdjust="spacingAndGlyphs" style="font-size:4.85px;stroke:#262626;stroke-width:0.08px;text-rendering:optimizeLegibility;fill:#262626;">34</text>
<rect x="218.42" y="228.40" width="5.25" height="16.40" fill="#2e4c82" stroke="#203c72" stroke-width="0.6"/>
<rect x="218.12" y="246.30" width="5.85" height="17.0" fill="#b1b1b1"/>
<text x="218.62" y="223.70" textLength="4.96" lengthAdjust="spacingAndGlyphs" style="font-size:4.85px;stroke:#262626;stroke-width:0.08px;text-rendering:optimizeLegibility;fill:#262626;">41</text>
<rect x="225.27" y="228.40" width="5.25" height="16.40" fill="#2e4c82" stroke="#203c72" stroke-width="0.6"/>
<rect x="224.97" y="246.30" width="5.85" height="17.0" fill="#b1b1b1"/>
<text x="225.46" y="223.70" textLength="4.96" lengthAdjust="spacingAndGlyphs" style="font-size:4.85px;stroke:#262626;stroke-width:0.08px;text-rendering:optimizeLegibility;fill:#262626;">43</text>
<rect x="232.11" y="228.40" width="5.25" height="16.40" fill="#2e4c82" stroke="#203c72" stroke-width="0.6"/>
<rect x="231.81" y="246.30" width="5.85" height="17.0" fill="#b1b1b1"/>
<text x="232.23" y="223.70" textLength="4.96" lengthAdjust="spacingAndGlyphs" style="font-size:4.85px;stroke:#262626;stroke-width:0.08px;text-rendering:optimizeLegibility;fill:#262626;">54</text>
<rect x="238.96" y="228.40" width="5.25" height="16.40" fill="#2e4c82" stroke="#203c72" stroke-width="0.6"/>
<rect x="238.66" y="246.30" width="5.85" height="17.0" fill="#b1b1b1"/>
<text x="239.09" y="223.70" textLength="4.96" lengthAdjust="spacingAndGlyphs" style="font-size:4.85px;stroke:#262626;stroke-width:0.08px;text-rendering:optimizeLegibility;fill:#262626;">61</text>
<rect x="245.80" y="228.40" width="5.25" height="16.40" fill="#2e4c82" stroke="#203c72" stroke-width="0.6"/>
<rect x="245.50" y="246.30" width="5.85" height="17.0" fill="#b1b1b1"/>
<text x="245.94" y="223.70" textLength="4.96" lengthAdjust="spacingAndGlyphs" style="font-size:4.85px;stroke:#262626;stroke-width:0.08px;text-rendering:optimizeLegibility;fill:#262626;">69</text>
<rect x="252.65" y="228.40" width="5.25" height="16.40" fill="#2e4c82" stroke="#203c72" stroke-width="0.6"/>
<rect x="252.35" y="246.30" width="5.85" height="17.0" fill="#b1b1b1"/>
<text x="252.74" y="223.70" textLength="4.96" lengthAdjust="spacingAndGlyphs" style="font-size:4.85px;stroke:#262626;stroke-width:0.08px;text-rendering:optimizeLegibility;fill:#262626;">74</text>
<rect x="259.49" y="228.40" width="5.25" height="16.40" fill="#2e4c82" stroke="#203c72" stroke-width="0.6"/>
<rect x="259.19" y="246.30" width="5.85" height="17.0" fill="#b1b1b1"/>
<text x="259.62" y="223.70" textLength="4.96" lengthAdjust="spacingAndGlyphs" style="font-size:4.85px;stroke:#262626;stroke-width:0.08px;text-rendering:optimizeLegibility;fill:#262626;">79</text>
<rect x="266.34" y="228.40" width="5.25" height="16.40" fill="#2e4c82" stroke="#203c72" stroke-width="0.6"/>
<rect x="266.04" y="246.30" width="5.85" height="17.0" fill="#b1b1b1"/>
<text x="266.48" y="223.70" textLength="4.96" lengthAdjust="spacingAndGlyphs" style="font-size:4.85px;stroke:#262626;stroke-width:0.08px;text-rendering:optimizeLegibility;fill:#262626;">83</text>
<rect x="273.18" y="228.40" width="5.25" height="16.40" fill="#2e4c82" stroke="#203c72" stroke-width="0.6"/>
<rect x="272.88" y="246.30" width="5.85" height="17.0" fill="#b1b1b1"/>
<text x="273.34" y="223.70" textLength="4.96" lengthAdjust="spacingAndGlyphs" style="font-size:4.85px;stroke:#262626;stroke-width:0.08px;text-rendering:optimizeLegibility;fill:#262626;">87</text>
<rect x="280.03" y="228.40" width="5.25" height="16.40" fill="#2e4c82" stroke="#203c72" stroke-width="0.6"/>
<rect x="279.73" y="246.30" width="5.85" height="17.0" fill="#b1b1b1"/>
<text x="280.15" y="223.70" textLength="4.96" lengthAdjust="spacingAndGlyphs" style="font-size:4.85px;stroke:#262626;stroke-width:0.08px;text-rendering:optimizeLegibility;fill:#262626;">90</text>
<rect x="286.87" y="228.40" width="5.25" height="16.40" fill="#2e4c82" stroke="#203c72" stroke-width="0.6"/>
<rect x="286.57" y="246.30" width="5.85" height="17.0" fill="#b1b1b1"/>
<text x="287.00" y="223.70" textLength="4.96" lengthAdjust="spacingAndGlyphs" style="font-size:4.85px;stroke:#262626;stroke-width:0.08px;text-rendering:optimizeLegibility;fill:#262626;">95</text>
<rect x="293.42" y="228.10" width="5.85" height="17.0" fill="#b1b1b1"/>
<rect x="293.72" y="246.60" width="5.25" height="16.40" fill="#a8002c" stroke="#940026" stroke-width="0.6"/>
<text x="293.86" y="223.70" textLength="4.96" lengthAdjust="spacingAndGlyphs" style="font-size:4.85px;stroke:#262626;stroke-width:0.08px;text-rendering:optimizeLegibility;fill:#262626;">22</text>
<rect x="300.26" y="228.10" width="5.85" height="17.0" fill="#b1b1b1"/>
<rect x="300.56" y="246.60" width="5.25" height="16.40" fill="#a8002c" stroke="#940026" stroke-width="0.6"/>
<text x="300.69" y="223.70" textLength="4.96" lengthAdjust="spacingAndGlyphs" style="font-size:4.85px;stroke:#262626;stroke-width:0.08px;text-rendering:optimizeLegibility;fill:#262626;">23</text>
<rect x="307.11" y="228.10" width="5.85" height="17.0" fill="#b1b1b1"/>
<rect x="307.41" y="246.60" width="5.25" height="16.40" fill="#a8002c" stroke="#940026" stroke-width="0.6"/>
<text x="307.55" y="223.70" textLength="4.96" lengthAdjust="spacingAndGlyphs" style="font-size:4.85px;stroke:#262626;stroke-width:0.08px;text-rendering:optimizeLegibility;fill:#262626;">30</text>
<rect x="313.95" y="228.10" width="5.85" height="17.0" fill="#b1b1b1"/>
<rect x="314.25" y="246.60" width="5.25" height="16.40" fill="#a8002c" stroke="#940026" stroke-width="0.6"/>
<text x="314.42" y="223.70" textLength="4.96" lengthAdjust="spacingAndGlyphs" style="font-size:4.85px;stroke:#262626;stroke-width:0.08px;text-rendering:optimizeLegibility;fill:#262626;">32</text>
<rect x="320.80" y="228.10" width="5.85" height="17.0" fill="#b1b1b1"/>
<rect x="321.10" y="246.60" width="5.25" height="16.40" fill="#a8002c" stroke="#940026" stroke-width="0.6"/>
<text x="321.26" y="223.70" textLength="4.96" lengthAdjust="spacingAndGlyphs" style="font-size:4.85px;stroke:#262626;stroke-width:0.08px;text-rendering:optimizeLegibility;fill:#262626;">51</text>
<rect x="327.64" y="228.10" width="5.85" height="17.0" fill="#b1b1b1"/>
<rect x="327.94" y="246.60" width="5.25" height="16.40" fill="#a8002c" stroke="#940026" stroke-width="0.6"/>
<text x="328.09" y="223.70" textLength="4.96" lengthAdjust="spacingAndGlyphs" style="font-size:4.85px;stroke:#262626;stroke-width:0.08px;text-rendering:optimizeLegibility;fill:#262626;">58</text>
<rect x="334.49" y="228.10" width="5.85" height="17.0" fill="#b1b1b1"/>
<rect x="334.79" y="246.60" width="5.25" height="16.40" fill="#a8002c" stroke="#940026" stroke-width="0.6"/>
<text x="334.93" y="223.70" textLength="4.96" lengthAdjust="spacingAndGlyphs" style="font-size:4.85px;stroke:#262626;stroke-width:0.08px;text-rendering:optimizeLegibility;fill:#262626;">62</text>
<rect x="341.33" y="228.10" width="5.85" height="17.0" fill="#b1b1b1"/>
<rect x="341.63" y="246.60" width="5.25" height="16.40" fill="#a8002c" stroke="#940026" stroke-width="0.6"/>
<text x="341.77" y="223.70" textLength="4.96" lengthAdjust="spacingAndGlyphs" style="font-size:4.85px;stroke:#262626;stroke-width:0.08px;text-rendering:optimizeLegibility;fill:#262626;">77</text>
<rect x="348.18" y="228.10" width="5.85" height="17.0" fill="#b1b1b1"/>
<rect x="348.48" y="246.60" width="5.25" height="16.40" fill="#a8002c" stroke="#940026" stroke-width="0.6"/>
<text x="348.62" y="223.70" textLength="4.96" lengthAdjust="spacingAndGlyphs" style="font-size:4.85px;stroke:#262626;stroke-width:0.08px;text-rendering:optimizeLegibility;fill:#262626;">86</text>
<text x="176.58" y="214.40" textLength="29.61" lengthAdjust="spacingAndGlyphs" style="font-size:8.14px;">CFU_ID</text>
<text x="146.37" y="224.50" textLength="15.45" lengthAdjust="spacingAndGlyphs" style="font-size:8.43px;stroke-width:0.25px;">VAF</text>
<text x="17.51" y="239.20" textLength="9.29" lengthAdjust="spacingAndGlyphs" style="font-size:8.50px;stroke:#000;font-weight:bold;fill:#000;">R1</text>
<text x="29.96" y="238.50" textLength="2.39" lengthAdjust="spacingAndGlyphs" style="font-size:8.30px;stroke-width:0.3px;">(</text>
<text x="32.83" y="239.20" textLength="35.63" lengthAdjust="spacingAndGlyphs" style="font-size:8.50px;stroke-width:0.3px;font-style:italic;">DNMT3A</text>
<text x="70.24" y="236.00" textLength="56.39" lengthAdjust="spacingAndGlyphs" style="font-size:6.40px;stroke-width:0.2px;">c.2083-1G&gt;A [splice]</text>
<text x="127.36" y="238.50" textLength="2.39" lengthAdjust="spacingAndGlyphs" style="font-size:8.30px;stroke-width:0.3px;">)</text>
<text x="30.16" y="256.60" textLength="2.39" lengthAdjust="spacingAndGlyphs" style="font-size:8.30px;stroke-width:0.3px;">(</text>
<text x="33.40" y="257.30" textLength="10.21" lengthAdjust="spacingAndGlyphs" style="font-size:8.50px;stroke-width:0.3px;font-style:italic;">KIT</text>
<text x="45.76" y="254.10" textLength="19.31" lengthAdjust="spacingAndGlyphs" style="font-size:6.40px;stroke-width:0.2px;">N1545</text>
<text x="65.66" y="256.60" textLength="2.39" lengthAdjust="spacingAndGlyphs" style="font-size:8.30px;stroke-width:0.3px;">)</text>
<text x="143.33" y="239.20" style="font-size:8.40px;stroke-width:0.25px;">0.081</text>
<text x="143.32" y="257.30" style="font-size:8.40px;stroke-width:0.25px;">0.029</text>
<rect x="175.80" y="296.50" width="145.25" height="37.70" fill="#fff"/>
<rect x="177.35" y="298.00" width="5.25" height="16.40" fill="#2e4c82" stroke="#203c72" stroke-width="0.6"/>
<rect x="177.05" y="315.90" width="5.85" height="17.0" fill="#b1b1b1"/>
<text x="178.72" y="293.30" textLength="2.48" lengthAdjust="spacingAndGlyphs" style="font-size:4.85px;stroke:#262626;stroke-width:0.08px;text-rendering:optimizeLegibility;fill:#262626;">6</text>
<rect x="184.20" y="298.00" width="5.25" height="16.40" fill="#2e4c82" stroke="#203c72" stroke-width="0.6"/>
<rect x="183.90" y="315.90" width="5.85" height="17.0" fill="#b1b1b1"/>
<text x="185.58" y="293.30" textLength="2.48" lengthAdjust="spacingAndGlyphs" style="font-size:4.85px;stroke:#262626;stroke-width:0.08px;text-rendering:optimizeLegibility;fill:#262626;">9</text>
<rect x="191.04" y="298.00" width="5.25" height="16.40" fill="#2e4c82" stroke="#203c72" stroke-width="0.6"/>
<rect x="190.74" y="315.90" width="5.85" height="17.0" fill="#b1b1b1"/>
<text x="191.12" y="293.30" textLength="4.96" lengthAdjust="spacingAndGlyphs" style="font-size:4.85px;stroke:#262626;stroke-width:0.08px;text-rendering:optimizeLegibility;fill:#262626;">19</text>
<rect x="197.89" y="298.00" width="5.25" height="16.40" fill="#2e4c82" stroke="#203c72" stroke-width="0.6"/>
<rect x="197.59" y="315.90" width="5.85" height="17.0" fill="#b1b1b1"/>
<text x="198.03" y="293.30" textLength="4.96" lengthAdjust="spacingAndGlyphs" style="font-size:4.85px;stroke:#262626;stroke-width:0.08px;text-rendering:optimizeLegibility;fill:#262626;">21</text>
<rect x="204.73" y="298.00" width="5.25" height="16.40" fill="#2e4c82" stroke="#203c72" stroke-width="0.6"/>
<rect x="204.43" y="315.90" width="5.85" height="17.0" fill="#b1b1b1"/>
<text x="204.86" y="293.30" textLength="4.96" lengthAdjust="spacingAndGlyphs" style="font-size:4.85px;stroke:#262626;stroke-width:0.08px;text-rendering:optimizeLegibility;fill:#262626;">26</text>
<rect x="211.58" y="298.00" width="5.25" height="16.40" fill="#2e4c82" stroke="#203c72" stroke-width="0.6"/>
<rect x="211.28" y="315.90" width="5.85" height="17.0" fill="#b1b1b1"/>
<text x="211.71" y="293.30" textLength="4.96" lengthAdjust="spacingAndGlyphs" style="font-size:4.85px;stroke:#262626;stroke-width:0.08px;text-rendering:optimizeLegibility;fill:#262626;">29</text>
<rect x="218.42" y="298.00" width="5.25" height="16.40" fill="#2e4c82" stroke="#203c72" stroke-width="0.6"/>
<rect x="218.12" y="315.90" width="5.85" height="17.0" fill="#b1b1b1"/>
<text x="218.54" y="293.30" textLength="4.96" lengthAdjust="spacingAndGlyphs" style="font-size:4.85px;stroke:#262626;stroke-width:0.08px;text-rendering:optimizeLegibility;fill:#262626;">34</text>
<rect x="225.27" y="298.00" width="5.25" height="16.40" fill="#2e4c82" stroke="#203c72" stroke-width="0.6"/>
<rect x="224.97" y="315.90" width="5.85" height="17.0" fill="#b1b1b1"/>
<text x="225.47" y="293.30" textLength="4.96" lengthAdjust="spacingAndGlyphs" style="font-size:4.85px;stroke:#262626;stroke-width:0.08px;text-rendering:optimizeLegibility;fill:#262626;">42</text>
<rect x="232.11" y="298.00" width="5.25" height="16.40" fill="#2e4c82" stroke="#203c72" stroke-width="0.6"/>
<rect x="231.81" y="315.90" width="5.85" height="17.0" fill="#b1b1b1"/>
<text x="232.30" y="293.30" textLength="4.96" lengthAdjust="spacingAndGlyphs" style="font-size:4.85px;stroke:#262626;stroke-width:0.08px;text-rendering:optimizeLegibility;fill:#262626;">43</text>
<rect x="238.96" y="298.00" width="5.25" height="16.40" fill="#2e4c82" stroke="#203c72" stroke-width="0.6"/>
<rect x="238.66" y="315.90" width="5.85" height="17.0" fill="#b1b1b1"/>
<text x="239.09" y="293.30" textLength="4.96" lengthAdjust="spacingAndGlyphs" style="font-size:4.85px;stroke:#262626;stroke-width:0.08px;text-rendering:optimizeLegibility;fill:#262626;">61</text>
<rect x="245.80" y="298.00" width="5.25" height="16.40" fill="#2e4c82" stroke="#203c72" stroke-width="0.6"/>
<rect x="245.50" y="315.90" width="5.85" height="17.0" fill="#b1b1b1"/>
<text x="245.94" y="293.30" textLength="4.96" lengthAdjust="spacingAndGlyphs" style="font-size:4.85px;stroke:#262626;stroke-width:0.08px;text-rendering:optimizeLegibility;fill:#262626;">67</text>
<rect x="252.65" y="298.00" width="5.25" height="16.40" fill="#2e4c82" stroke="#203c72" stroke-width="0.6"/>
<rect x="252.35" y="315.90" width="5.85" height="17.0" fill="#b1b1b1"/>
<text x="252.78" y="293.30" textLength="4.96" lengthAdjust="spacingAndGlyphs" style="font-size:4.85px;stroke:#262626;stroke-width:0.08px;text-rendering:optimizeLegibility;fill:#262626;">71</text>
<rect x="259.49" y="298.00" width="5.25" height="16.40" fill="#2e4c82" stroke="#203c72" stroke-width="0.6"/>
<rect x="259.19" y="315.90" width="5.85" height="17.0" fill="#b1b1b1"/>
<text x="259.63" y="293.30" textLength="4.96" lengthAdjust="spacingAndGlyphs" style="font-size:4.85px;stroke:#262626;stroke-width:0.08px;text-rendering:optimizeLegibility;fill:#262626;">77</text>
<rect x="266.34" y="298.00" width="5.25" height="16.40" fill="#2e4c82" stroke="#203c72" stroke-width="0.6"/>
<rect x="266.04" y="315.90" width="5.85" height="17.0" fill="#b1b1b1"/>
<text x="266.46" y="293.30" textLength="4.96" lengthAdjust="spacingAndGlyphs" style="font-size:4.85px;stroke:#262626;stroke-width:0.08px;text-rendering:optimizeLegibility;fill:#262626;">78</text>
<rect x="273.18" y="298.00" width="5.25" height="16.40" fill="#2e4c82" stroke="#203c72" stroke-width="0.6"/>
<rect x="272.88" y="315.90" width="5.85" height="17.0" fill="#b1b1b1"/>
<text x="273.34" y="293.30" textLength="4.96" lengthAdjust="spacingAndGlyphs" style="font-size:4.85px;stroke:#262626;stroke-width:0.08px;text-rendering:optimizeLegibility;fill:#262626;">87</text>
<rect x="280.03" y="298.00" width="5.25" height="16.40" fill="#2e4c82" stroke="#203c72" stroke-width="0.6"/>
<rect x="279.73" y="315.90" width="5.85" height="17.0" fill="#b1b1b1"/>
<text x="280.16" y="293.30" textLength="4.96" lengthAdjust="spacingAndGlyphs" style="font-size:4.85px;stroke:#262626;stroke-width:0.08px;text-rendering:optimizeLegibility;fill:#262626;">93</text>
<rect x="286.57" y="297.70" width="5.85" height="17.0" fill="#b1b1b1"/>
<rect x="286.87" y="316.20" width="5.25" height="16.40" fill="#a8002c" stroke="#940026" stroke-width="0.6"/>
<text x="288.27" y="293.30" textLength="2.48" lengthAdjust="spacingAndGlyphs" style="font-size:4.85px;stroke:#262626;stroke-width:0.08px;text-rendering:optimizeLegibility;fill:#262626;">3</text>
<rect x="293.42" y="297.70" width="5.85" height="17.0" fill="#b1b1b1"/>
<rect x="293.72" y="316.20" width="5.25" height="16.40" fill="#a8002c" stroke="#940026" stroke-width="0.6"/>
<text x="293.79" y="293.30" textLength="4.96" lengthAdjust="spacingAndGlyphs" style="font-size:4.85px;stroke:#262626;stroke-width:0.08px;text-rendering:optimizeLegibility;fill:#262626;">13</text>
<rect x="300.26" y="297.70" width="5.85" height="17.0" fill="#b1b1b1"/>
<rect x="300.56" y="316.20" width="5.25" height="16.40" fill="#a8002c" stroke="#940026" stroke-width="0.6"/>
<text x="300.72" y="293.30" textLength="4.96" lengthAdjust="spacingAndGlyphs" style="font-size:4.85px;stroke:#262626;stroke-width:0.08px;text-rendering:optimizeLegibility;fill:#262626;">44</text>
<rect x="307.11" y="297.70" width="5.85" height="17.0" fill="#b1b1b1"/>
<rect x="307.41" y="316.20" width="5.25" height="16.40" fill="#a8002c" stroke="#940026" stroke-width="0.6"/>
<text x="307.52" y="293.30" textLength="4.96" lengthAdjust="spacingAndGlyphs" style="font-size:4.85px;stroke:#262626;stroke-width:0.08px;text-rendering:optimizeLegibility;fill:#262626;">54</text>
<rect x="313.95" y="297.70" width="5.85" height="17.0" fill="#b1b1b1"/>
<rect x="314.25" y="316.20" width="5.25" height="16.40" fill="#a8002c" stroke="#940026" stroke-width="0.6"/>
<text x="314.41" y="293.30" textLength="4.96" lengthAdjust="spacingAndGlyphs" style="font-size:4.85px;stroke:#262626;stroke-width:0.08px;text-rendering:optimizeLegibility;fill:#262626;">81</text>
<text x="176.58" y="284.00" textLength="29.61" lengthAdjust="spacingAndGlyphs" style="font-size:8.14px;">CFU_ID</text>
<text x="146.37" y="294.10" textLength="15.45" lengthAdjust="spacingAndGlyphs" style="font-size:8.43px;stroke-width:0.25px;">VAF</text>
<text x="17.35" y="308.80" textLength="10.51" lengthAdjust="spacingAndGlyphs" style="font-size:8.50px;stroke:#000;font-weight:bold;fill:#000;">R7</text>
<text x="29.96" y="308.10" textLength="2.39" lengthAdjust="spacingAndGlyphs" style="font-size:8.30px;stroke-width:0.3px;">(</text>
<text x="32.25" y="308.80" textLength="32.43" lengthAdjust="spacingAndGlyphs" style="font-size:8.50px;stroke-width:0.3px;font-style:italic;">BCORL1</text>
<text x="66.02" y="305.60" textLength="16.57" lengthAdjust="spacingAndGlyphs" style="font-size:6.40px;stroke-width:0.2px;">Q486*</text>
<text x="83.56" y="308.10" textLength="2.39" lengthAdjust="spacingAndGlyphs" style="font-size:8.30px;stroke-width:0.3px;">)</text>
<text x="30.36" y="326.20" textLength="2.39" lengthAdjust="spacingAndGlyphs" style="font-size:8.30px;stroke-width:0.3px;">(</text>
<text x="32.94" y="326.90" textLength="35.33" lengthAdjust="spacingAndGlyphs" style="font-size:8.50px;stroke-width:0.3px;font-style:italic;">DNMT3A</text>
<text x="69.72" y="323.70" textLength="18.37" lengthAdjust="spacingAndGlyphs" style="font-size:6.40px;stroke-width:0.2px;">E477Q</text>
<text x="88.06" y="326.20" textLength="2.39" lengthAdjust="spacingAndGlyphs" style="font-size:8.30px;stroke-width:0.3px;">)</text>
<text x="143.25" y="308.80" style="font-size:8.40px;stroke-width:0.25px;">0.024</text>
<text x="143.34" y="326.90" style="font-size:8.40px;stroke-width:0.25px;">0.027</text>
<rect x="175.80" y="365.80" width="49.42" height="37.70" fill="#fff"/>
<rect x="177.35" y="367.30" width="5.25" height="16.40" fill="#2e4c82" stroke="#203c72" stroke-width="0.6"/>
<rect x="177.05" y="385.20" width="5.85" height="17.0" fill="#b1b1b1"/>
<text x="178.75" y="362.60" textLength="2.48" lengthAdjust="spacingAndGlyphs" style="font-size:4.85px;stroke:#262626;stroke-width:0.08px;text-rendering:optimizeLegibility;fill:#262626;">4</text>
<rect x="184.20" y="367.30" width="5.25" height="16.40" fill="#2e4c82" stroke="#203c72" stroke-width="0.6"/>
<rect x="183.90" y="385.20" width="5.85" height="17.0" fill="#b1b1b1"/>
<text x="184.26" y="362.60" textLength="4.96" lengthAdjust="spacingAndGlyphs" style="font-size:4.85px;stroke:#262626;stroke-width:0.08px;text-rendering:optimizeLegibility;fill:#262626;">15</text>
<rect x="191.04" y="367.30" width="5.25" height="16.40" fill="#2e4c82" stroke="#203c72" stroke-width="0.6"/>
<rect x="190.74" y="385.20" width="5.85" height="17.0" fill="#b1b1b1"/>
<text x="191.21" y="362.60" textLength="4.96" lengthAdjust="spacingAndGlyphs" style="font-size:4.85px;stroke:#262626;stroke-width:0.08px;text-rendering:optimizeLegibility;fill:#262626;">57</text>
<rect x="197.89" y="367.30" width="5.25" height="16.40" fill="#2e4c82" stroke="#203c72" stroke-width="0.6"/>
<rect x="197.59" y="385.20" width="5.85" height="17.0" fill="#b1b1b1"/>
<text x="198.03" y="362.60" textLength="4.96" lengthAdjust="spacingAndGlyphs" style="font-size:4.85px;stroke:#262626;stroke-width:0.08px;text-rendering:optimizeLegibility;fill:#262626;">85</text>
<rect x="204.73" y="367.30" width="5.25" height="16.40" fill="#2e4c82" stroke="#203c72" stroke-width="0.6"/>
<rect x="204.43" y="385.20" width="5.85" height="17.0" fill="#b1b1b1"/>
<text x="204.87" y="362.60" textLength="4.96" lengthAdjust="spacingAndGlyphs" style="font-size:4.85px;stroke:#262626;stroke-width:0.08px;text-rendering:optimizeLegibility;fill:#262626;">86</text>
<rect x="211.28" y="367.00" width="5.85" height="17.0" fill="#b1b1b1"/>
<rect x="211.58" y="385.50" width="5.25" height="16.40" fill="#a8002c" stroke="#940026" stroke-width="0.6"/>
<text x="211.67" y="362.60" textLength="4.96" lengthAdjust="spacingAndGlyphs" style="font-size:4.85px;stroke:#262626;stroke-width:0.08px;text-rendering:optimizeLegibility;fill:#262626;">24</text>
<rect x="218.12" y="367.00" width="5.85" height="17.0" fill="#b1b1b1"/>
<rect x="218.42" y="385.50" width="5.25" height="16.40" fill="#a8002c" stroke="#940026" stroke-width="0.6"/>
<text x="218.56" y="362.60" textLength="4.96" lengthAdjust="spacingAndGlyphs" style="font-size:4.85px;stroke:#262626;stroke-width:0.08px;text-rendering:optimizeLegibility;fill:#262626;">72</text>
<text x="176.58" y="353.30" textLength="29.61" lengthAdjust="spacingAndGlyphs" style="font-size:8.14px;">CFU_ID</text>
<text x="146.37" y="363.40" textLength="15.45" lengthAdjust="spacingAndGlyphs" style="font-size:8.43px;stroke-width:0.25px;">VAF</text>
<text x="17.31" y="378.10" textLength="16.13" lengthAdjust="spacingAndGlyphs" style="font-size:8.50px;stroke:#000;font-weight:bold;fill:#000;">D21</text>
<text x="34.66" y="377.40" textLength="2.39" lengthAdjust="spacingAndGlyphs" style="font-size:8.30px;stroke-width:0.3px;">(</text>
<text x="37.05" y="378.10" textLength="23.60" lengthAdjust="spacingAndGlyphs" style="font-size:8.50px;stroke-width:0.3px;font-style:italic;">BCOR</text>
<text x="62.35" y="374.90" textLength="17.10" lengthAdjust="spacingAndGlyphs" style="font-size:6.40px;stroke-width:0.2px;">R243H</text>
<text x="80.06" y="377.40" textLength="2.39" lengthAdjust="spacingAndGlyphs" style="font-size:8.30px;stroke-width:0.3px;">)</text>
<text x="35.26" y="395.50" textLength="2.39" lengthAdjust="spacingAndGlyphs" style="font-size:8.30px;stroke-width:0.3px;">(</text>
<text x="38.03" y="396.20" textLength="35.43" lengthAdjust="spacingAndGlyphs" style="font-size:8.50px;stroke-width:0.3px;font-style:italic;">DNMT3A</text>
<text x="74.31" y="393.00" textLength="17.76" lengthAdjust="spacingAndGlyphs" style="font-size:6.40px;stroke-width:0.2px;">P904S</text>
<text x="92.06" y="395.50" textLength="2.39" lengthAdjust="spacingAndGlyphs" style="font-size:8.30px;stroke-width:0.3px;">)</text>
<text x="143.34" y="378.10" style="font-size:8.40px;stroke-width:0.25px;">0.032</text>
<text x="143.31" y="396.20" style="font-size:8.40px;stroke-width:0.25px;">0.028</text>
<rect x="175.80" y="435.30" width="145.25" height="37.70" fill="#fff"/>
<rect x="177.35" y="436.80" width="5.25" height="16.40" fill="#2e4c82" stroke="#203c72" stroke-width="0.6"/>
<rect x="177.05" y="454.70" width="5.85" height="17.0" fill="#b1b1b1"/>
<text x="178.73" y="432.10" textLength="2.48" lengthAdjust="spacingAndGlyphs" style="font-size:4.85px;stroke:#262626;stroke-width:0.08px;text-rendering:optimizeLegibility;fill:#262626;">8</text>
<rect x="184.20" y="436.80" width="5.25" height="16.40" fill="#2e4c82" stroke="#203c72" stroke-width="0.6"/>
<rect x="183.90" y="454.70" width="5.85" height="17.0" fill="#b1b1b1"/>
<text x="184.28" y="432.10" textLength="4.96" lengthAdjust="spacingAndGlyphs" style="font-size:4.85px;stroke:#262626;stroke-width:0.08px;text-rendering:optimizeLegibility;fill:#262626;">12</text>
<rect x="191.04" y="436.80" width="5.25" height="16.40" fill="#2e4c82" stroke="#203c72" stroke-width="0.6"/>
<rect x="190.74" y="454.70" width="5.85" height="17.0" fill="#b1b1b1"/>
<text x="191.12" y="432.10" textLength="4.96" lengthAdjust="spacingAndGlyphs" style="font-size:4.85px;stroke:#262626;stroke-width:0.08px;text-rendering:optimizeLegibility;fill:#262626;">19</text>
<rect x="197.89" y="436.80" width="5.25" height="16.40" fill="#2e4c82" stroke="#203c72" stroke-width="0.6"/>
<rect x="197.59" y="454.70" width="5.85" height="17.0" fill="#b1b1b1"/>
<text x="198.03" y="432.10" textLength="4.96" lengthAdjust="spacingAndGlyphs" style="font-size:4.85px;stroke:#262626;stroke-width:0.08px;text-rendering:optimizeLegibility;fill:#262626;">50</text>
<rect x="204.73" y="436.80" width="5.25" height="16.40" fill="#2e4c82" stroke="#203c72" stroke-width="0.6"/>
<rect x="204.43" y="454.70" width="5.85" height="17.0" fill="#b1b1b1"/>
<text x="204.86" y="432.10" textLength="4.96" lengthAdjust="spacingAndGlyphs" style="font-size:4.85px;stroke:#262626;stroke-width:0.08px;text-rendering:optimizeLegibility;fill:#262626;">79</text>
<rect x="211.28" y="436.50" width="5.85" height="17.0" fill="#b1b1b1"/>
<rect x="211.58" y="455.00" width="5.25" height="16.40" fill="#a8002c" stroke="#940026" stroke-width="0.6"/>
<text x="212.90" y="432.10" textLength="2.48" lengthAdjust="spacingAndGlyphs" style="font-size:4.85px;stroke:#262626;stroke-width:0.08px;text-rendering:optimizeLegibility;fill:#262626;">1</text>
<rect x="218.12" y="436.50" width="5.85" height="17.0" fill="#b1b1b1"/>
<rect x="218.42" y="455.00" width="5.25" height="16.40" fill="#a8002c" stroke="#940026" stroke-width="0.6"/>
<text x="219.79" y="432.10" textLength="2.48" lengthAdjust="spacingAndGlyphs" style="font-size:4.85px;stroke:#262626;stroke-width:0.08px;text-rendering:optimizeLegibility;fill:#262626;">6</text>
<rect x="224.97" y="436.50" width="5.85" height="17.0" fill="#b1b1b1"/>
<rect x="225.27" y="455.00" width="5.25" height="16.40" fill="#a8002c" stroke="#940026" stroke-width="0.6"/>
<text x="225.39" y="432.10" textLength="4.96" lengthAdjust="spacingAndGlyphs" style="font-size:4.85px;stroke:#262626;stroke-width:0.08px;text-rendering:optimizeLegibility;fill:#262626;">23</text>
<rect x="231.81" y="436.50" width="5.85" height="17.0" fill="#b1b1b1"/>
<rect x="232.11" y="455.00" width="5.25" height="16.40" fill="#a8002c" stroke="#940026" stroke-width="0.6"/>
<text x="232.21" y="432.10" textLength="4.96" lengthAdjust="spacingAndGlyphs" style="font-size:4.85px;stroke:#262626;stroke-width:0.08px;text-rendering:optimizeLegibility;fill:#262626;">24</text>
<rect x="238.66" y="436.50" width="5.85" height="17.0" fill="#b1b1b1"/>
<rect x="238.96" y="455.00" width="5.25" height="16.40" fill="#a8002c" stroke="#940026" stroke-width="0.6"/>
<text x="239.08" y="432.10" textLength="4.96" lengthAdjust="spacingAndGlyphs" style="font-size:4.85px;stroke:#262626;stroke-width:0.08px;text-rendering:optimizeLegibility;fill:#262626;">26</text>
<rect x="245.50" y="436.50" width="5.85" height="17.0" fill="#b1b1b1"/>
<rect x="245.80" y="455.00" width="5.25" height="16.40" fill="#a8002c" stroke="#940026" stroke-width="0.6"/>
<text x="245.92" y="432.10" textLength="4.96" lengthAdjust="spacingAndGlyphs" style="font-size:4.85px;stroke:#262626;stroke-width:0.08px;text-rendering:optimizeLegibility;fill:#262626;">34</text>
<rect x="252.35" y="436.50" width="5.85" height="17.0" fill="#b1b1b1"/>
<rect x="252.65" y="455.00" width="5.25" height="16.40" fill="#a8002c" stroke="#940026" stroke-width="0.6"/>
<text x="252.80" y="432.10" textLength="4.96" lengthAdjust="spacingAndGlyphs" style="font-size:4.85px;stroke:#262626;stroke-width:0.08px;text-rendering:optimizeLegibility;fill:#262626;">35</text>
<rect x="259.19" y="436.50" width="5.85" height="17.0" fill="#b1b1b1"/>
<rect x="259.49" y="455.00" width="5.25" height="16.40" fill="#a8002c" stroke="#940026" stroke-width="0.6"/>
<text x="259.65" y="432.10" textLength="4.96" lengthAdjust="spacingAndGlyphs" style="font-size:4.85px;stroke:#262626;stroke-width:0.08px;text-rendering:optimizeLegibility;fill:#262626;">36</text>
<rect x="266.04" y="436.50" width="5.85" height="17.0" fill="#b1b1b1"/>
<rect x="266.34" y="455.00" width="5.25" height="16.40" fill="#a8002c" stroke="#940026" stroke-width="0.6"/>
<text x="266.54" y="432.10" textLength="4.96" lengthAdjust="spacingAndGlyphs" style="font-size:4.85px;stroke:#262626;stroke-width:0.08px;text-rendering:optimizeLegibility;fill:#262626;">42</text>
<rect x="272.88" y="436.50" width="5.85" height="17.0" fill="#b1b1b1"/>
<rect x="273.18" y="455.00" width="5.25" height="16.40" fill="#a8002c" stroke="#940026" stroke-width="0.6"/>
<text x="273.34" y="432.10" textLength="4.96" lengthAdjust="spacingAndGlyphs" style="font-size:4.85px;stroke:#262626;stroke-width:0.08px;text-rendering:optimizeLegibility;fill:#262626;">51</text>
<rect x="279.73" y="436.50" width="5.85" height="17.0" fill="#b1b1b1"/>
<rect x="280.03" y="455.00" width="5.25" height="16.40" fill="#a8002c" stroke="#940026" stroke-width="0.6"/>
<text x="280.17" y="432.10" textLength="4.96" lengthAdjust="spacingAndGlyphs" style="font-size:4.85px;stroke:#262626;stroke-width:0.08px;text-rendering:optimizeLegibility;fill:#262626;">55</text>
<rect x="286.57" y="436.50" width="5.85" height="17.0" fill="#b1b1b1"/>
<rect x="286.87" y="455.00" width="5.25" height="16.40" fill="#a8002c" stroke="#940026" stroke-width="0.6"/>
<text x="287.02" y="432.10" textLength="4.96" lengthAdjust="spacingAndGlyphs" style="font-size:4.85px;stroke:#262626;stroke-width:0.08px;text-rendering:optimizeLegibility;fill:#262626;">56</text>
<rect x="293.42" y="436.50" width="5.85" height="17.0" fill="#b1b1b1"/>
<rect x="293.72" y="455.00" width="5.25" height="16.40" fill="#a8002c" stroke="#940026" stroke-width="0.6"/>
<text x="293.86" y="432.10" textLength="4.96" lengthAdjust="spacingAndGlyphs" style="font-size:4.85px;stroke:#262626;stroke-width:0.08px;text-rendering:optimizeLegibility;fill:#262626;">72</text>
<rect x="300.26" y="436.50" width="5.85" height="17.0" fill="#b1b1b1"/>
<rect x="300.56" y="455.00" width="5.25" height="16.40" fill="#a8002c" stroke="#940026" stroke-width="0.6"/>
<text x="300.72" y="432.10" textLength="4.96" lengthAdjust="spacingAndGlyphs" style="font-size:4.85px;stroke:#262626;stroke-width:0.08px;text-rendering:optimizeLegibility;fill:#262626;">87</text>
<rect x="307.11" y="436.50" width="5.85" height="17.0" fill="#b1b1b1"/>
<rect x="307.41" y="455.00" width="5.25" height="16.40" fill="#a8002c" stroke="#940026" stroke-width="0.6"/>
<text x="307.55" y="432.10" textLength="4.96" lengthAdjust="spacingAndGlyphs" style="font-size:4.85px;stroke:#262626;stroke-width:0.08px;text-rendering:optimizeLegibility;fill:#262626;">91</text>
<rect x="313.95" y="436.50" width="5.85" height="17.0" fill="#b1b1b1"/>
<rect x="314.25" y="455.00" width="5.25" height="16.40" fill="#a8002c" stroke="#940026" stroke-width="0.6"/>
<text x="314.38" y="432.10" textLength="4.96" lengthAdjust="spacingAndGlyphs" style="font-size:4.85px;stroke:#262626;stroke-width:0.08px;text-rendering:optimizeLegibility;fill:#262626;">95</text>
<text x="176.58" y="422.80" textLength="29.61" lengthAdjust="spacingAndGlyphs" style="font-size:8.14px;">CFU_ID</text>
<text x="146.37" y="432.90" textLength="15.45" lengthAdjust="spacingAndGlyphs" style="font-size:8.43px;stroke-width:0.25px;">VAF</text>
<text x="17.35" y="447.60" textLength="15.08" lengthAdjust="spacingAndGlyphs" style="font-size:8.50px;stroke:#000;font-weight:bold;fill:#000;">R21</text>
<text x="34.76" y="446.90" textLength="2.39" lengthAdjust="spacingAndGlyphs" style="font-size:8.30px;stroke-width:0.3px;">(</text>
<text x="37.25" y="447.60" textLength="23.60" lengthAdjust="spacingAndGlyphs" style="font-size:8.50px;stroke-width:0.3px;font-style:italic;">BCOR</text>
<text x="62.13" y="444.40" textLength="17.84" lengthAdjust="spacingAndGlyphs" style="font-size:6.40px;stroke-width:0.2px;">R243H</text>
<text x="80.66" y="446.90" textLength="2.39" lengthAdjust="spacingAndGlyphs" style="font-size:8.30px;stroke-width:0.3px;">)</text>
<text x="35.26" y="465.00" textLength="2.39" lengthAdjust="spacingAndGlyphs" style="font-size:8.30px;stroke-width:0.3px;">(</text>
<text x="37.93" y="465.70" textLength="35.43" lengthAdjust="spacingAndGlyphs" style="font-size:8.50px;stroke-width:0.3px;font-style:italic;">DNMT3A</text>
<text x="74.31" y="462.50" textLength="17.76" lengthAdjust="spacingAndGlyphs" style="font-size:6.40px;stroke-width:0.2px;">P904S</text>
<text x="92.06" y="465.00" textLength="2.39" lengthAdjust="spacingAndGlyphs" style="font-size:8.30px;stroke-width:0.3px;">)</text>
<text x="143.31" y="447.60" style="font-size:8.40px;stroke-width:0.25px;">0.048</text>
<text x="143.31" y="465.70" style="font-size:8.40px;stroke-width:0.25px;">0.093</text>
<rect x="175.80" y="504.80" width="323.22" height="37.70" fill="#fff"/>
<rect x="177.35" y="506.30" width="5.25" height="16.40" fill="#2e4c82" stroke="#203c72" stroke-width="0.6"/>
<rect x="177.05" y="524.20" width="5.85" height="17.0" fill="#b1b1b1"/>
<text x="178.73" y="501.60" textLength="2.48" lengthAdjust="spacingAndGlyphs" style="font-size:4.85px;stroke:#262626;stroke-width:0.08px;text-rendering:optimizeLegibility;fill:#262626;">2</text>
<rect x="184.20" y="506.30" width="5.25" height="16.40" fill="#2e4c82" stroke="#203c72" stroke-width="0.6"/>
<rect x="183.90" y="524.20" width="5.85" height="17.0" fill="#b1b1b1"/>
<text x="185.59" y="501.60" textLength="2.48" lengthAdjust="spacingAndGlyphs" style="font-size:4.85px;stroke:#262626;stroke-width:0.08px;text-rendering:optimizeLegibility;fill:#262626;">4</text>
<rect x="191.04" y="506.30" width="5.25" height="16.40" fill="#2e4c82" stroke="#203c72" stroke-width="0.6"/>
<rect x="190.74" y="524.20" width="5.85" height="17.0" fill="#b1b1b1"/>
<text x="192.43" y="501.60" textLength="2.48" lengthAdjust="spacingAndGlyphs" style="font-size:4.85px;stroke:#262626;stroke-width:0.08px;text-rendering:optimizeLegibility;fill:#262626;">5</text>
<rect x="197.89" y="506.30" width="5.25" height="16.40" fill="#2e4c82" stroke="#203c72" stroke-width="0.6"/>
<rect x="197.59" y="524.20" width="5.85" height="17.0" fill="#b1b1b1"/>
<text x="199.25" y="501.60" textLength="2.48" lengthAdjust="spacingAndGlyphs" style="font-size:4.85px;stroke:#262626;stroke-width:0.08px;text-rendering:optimizeLegibility;fill:#262626;">6</text>
<rect x="204.73" y="506.30" width="5.25" height="16.40" fill="#2e4c82" stroke="#203c72" stroke-width="0.6"/>
<rect x="204.43" y="524.20" width="5.85" height="17.0" fill="#b1b1b1"/>
<text x="204.80" y="501.60" textLength="4.96" lengthAdjust="spacingAndGlyphs" style="font-size:4.85px;stroke:#262626;stroke-width:0.08px;text-rendering:optimizeLegibility;fill:#262626;">13</text>
<rect x="211.58" y="506.30" width="5.25" height="16.40" fill="#2e4c82" stroke="#203c72" stroke-width="0.6"/>
<rect x="211.28" y="524.20" width="5.85" height="17.0" fill="#b1b1b1"/>
<text x="211.64" y="501.60" textLength="4.96" lengthAdjust="spacingAndGlyphs" style="font-size:4.85px;stroke:#262626;stroke-width:0.08px;text-rendering:optimizeLegibility;fill:#262626;">15</text>
<rect x="218.42" y="506.30" width="5.25" height="16.40" fill="#2e4c82" stroke="#203c72" stroke-width="0.6"/>
<rect x="218.12" y="524.20" width="5.85" height="17.0" fill="#b1b1b1"/>
<text x="218.49" y="501.60" textLength="4.96" lengthAdjust="spacingAndGlyphs" style="font-size:4.85px;stroke:#262626;stroke-width:0.08px;text-rendering:optimizeLegibility;fill:#262626;">18</text>
<rect x="225.27" y="506.30" width="5.25" height="16.40" fill="#2e4c82" stroke="#203c72" stroke-width="0.6"/>
<rect x="224.97" y="524.20" width="5.85" height="17.0" fill="#b1b1b1"/>
<text x="225.41" y="501.60" textLength="4.96" lengthAdjust="spacingAndGlyphs" style="font-size:4.85px;stroke:#262626;stroke-width:0.08px;text-rendering:optimizeLegibility;fill:#262626;">21</text>
<rect x="232.11" y="506.30" width="5.25" height="16.40" fill="#2e4c82" stroke="#203c72" stroke-width="0.6"/>
<rect x="231.81" y="524.20" width="5.85" height="17.0" fill="#b1b1b1"/>
<text x="232.24" y="501.60" textLength="4.96" lengthAdjust="spacingAndGlyphs" style="font-size:4.85px;stroke:#262626;stroke-width:0.08px;text-rendering:optimizeLegibility;fill:#262626;">23</text>
<rect x="238.96" y="506.30" width="5.25" height="16.40" fill="#2e4c82" stroke="#203c72" stroke-width="0.6"/>
<rect x="238.66" y="524.20" width="5.85" height="17.0" fill="#b1b1b1"/>
<text x="239.05" y="501.60" textLength="4.96" lengthAdjust="spacingAndGlyphs" style="font-size:4.85px;stroke:#262626;stroke-width:0.08px;text-rendering:optimizeLegibility;fill:#262626;">24</text>
<rect x="245.80" y="506.30" width="5.25" height="16.40" fill="#2e4c82" stroke="#203c72" stroke-width="0.6"/>
<rect x="245.50" y="524.20" width="5.85" height="17.0" fill="#b1b1b1"/>
<text x="245.93" y="501.60" textLength="4.96" lengthAdjust="spacingAndGlyphs" style="font-size:4.85px;stroke:#262626;stroke-width:0.08px;text-rendering:optimizeLegibility;fill:#262626;">26</text>
<rect x="252.65" y="506.30" width="5.25" height="16.40" fill="#2e4c82" stroke="#203c72" stroke-width="0.6"/>
<rect x="252.35" y="524.20" width="5.85" height="17.0" fill="#b1b1b1"/>
<text x="252.81" y="501.60" textLength="4.96" lengthAdjust="spacingAndGlyphs" style="font-size:4.85px;stroke:#262626;stroke-width:0.08px;text-rendering:optimizeLegibility;fill:#262626;">31</text>
<rect x="259.49" y="506.30" width="5.25" height="16.40" fill="#2e4c82" stroke="#203c72" stroke-width="0.6"/>
<rect x="259.19" y="524.20" width="5.85" height="17.0" fill="#b1b1b1"/>
<text x="259.64" y="501.60" textLength="4.96" lengthAdjust="spacingAndGlyphs" style="font-size:4.85px;stroke:#262626;stroke-width:0.08px;text-rendering:optimizeLegibility;fill:#262626;">35</text>
<rect x="266.34" y="506.30" width="5.25" height="16.40" fill="#2e4c82" stroke="#203c72" stroke-width="0.6"/>
<rect x="266.04" y="524.20" width="5.85" height="17.0" fill="#b1b1b1"/>
<text x="266.49" y="501.60" textLength="4.96" lengthAdjust="spacingAndGlyphs" style="font-size:4.85px;stroke:#262626;stroke-width:0.08px;text-rendering:optimizeLegibility;fill:#262626;">36</text>
<rect x="273.18" y="506.30" width="5.25" height="16.40" fill="#2e4c82" stroke="#203c72" stroke-width="0.6"/>
<rect x="272.88" y="524.20" width="5.85" height="17.0" fill="#b1b1b1"/>
<text x="273.34" y="501.60" textLength="4.96" lengthAdjust="spacingAndGlyphs" style="font-size:4.85px;stroke:#262626;stroke-width:0.08px;text-rendering:optimizeLegibility;fill:#262626;">39</text>
<rect x="280.03" y="506.30" width="5.25" height="16.40" fill="#2e4c82" stroke="#203c72" stroke-width="0.6"/>
<rect x="279.73" y="524.20" width="5.85" height="17.0" fill="#b1b1b1"/>
<text x="280.20" y="501.60" textLength="4.96" lengthAdjust="spacingAndGlyphs" style="font-size:4.85px;stroke:#262626;stroke-width:0.08px;text-rendering:optimizeLegibility;fill:#262626;">40</text>
<rect x="286.87" y="506.30" width="5.25" height="16.40" fill="#2e4c82" stroke="#203c72" stroke-width="0.6"/>
<rect x="286.57" y="524.20" width="5.85" height="17.0" fill="#b1b1b1"/>
<text x="287.07" y="501.60" textLength="4.96" lengthAdjust="spacingAndGlyphs" style="font-size:4.85px;stroke:#262626;stroke-width:0.08px;text-rendering:optimizeLegibility;fill:#262626;">41</text>
<rect x="293.72" y="506.30" width="5.25" height="16.40" fill="#2e4c82" stroke="#203c72" stroke-width="0.6"/>
<rect x="293.42" y="524.20" width="5.85" height="17.0" fill="#b1b1b1"/>
<text x="293.92" y="501.60" textLength="4.96" lengthAdjust="spacingAndGlyphs" style="font-size:4.85px;stroke:#262626;stroke-width:0.08px;text-rendering:optimizeLegibility;fill:#262626;">42</text>
<rect x="300.56" y="506.30" width="5.25" height="16.40" fill="#2e4c82" stroke="#203c72" stroke-width="0.6"/>
<rect x="300.26" y="524.20" width="5.85" height="17.0" fill="#b1b1b1"/>
<text x="300.72" y="501.60" textLength="4.96" lengthAdjust="spacingAndGlyphs" style="font-size:4.85px;stroke:#262626;stroke-width:0.08px;text-rendering:optimizeLegibility;fill:#262626;">44</text>
<rect x="307.41" y="506.30" width="5.25" height="16.40" fill="#2e4c82" stroke="#203c72" stroke-width="0.6"/>
<rect x="307.11" y="524.20" width="5.85" height="17.0" fill="#b1b1b1"/>
<text x="307.60" y="501.60" textLength="4.96" lengthAdjust="spacingAndGlyphs" style="font-size:4.85px;stroke:#262626;stroke-width:0.08px;text-rendering:optimizeLegibility;fill:#262626;">46</text>
<rect x="314.25" y="506.30" width="5.25" height="16.40" fill="#2e4c82" stroke="#203c72" stroke-width="0.6"/>
<rect x="313.95" y="524.20" width="5.85" height="17.0" fill="#b1b1b1"/>
<text x="314.45" y="501.60" textLength="4.96" lengthAdjust="spacingAndGlyphs" style="font-size:4.85px;stroke:#262626;stroke-width:0.08px;text-rendering:optimizeLegibility;fill:#262626;">47</text>
<rect x="321.10" y="506.30" width="5.25" height="16.40" fill="#2e4c82" stroke="#203c72" stroke-width="0.6"/>
<rect x="320.80" y="524.20" width="5.85" height="17.0" fill="#b1b1b1"/>
<text x="321.28" y="501.60" textLength="4.96" lengthAdjust="spacingAndGlyphs" style="font-size:4.85px;stroke:#262626;stroke-width:0.08px;text-rendering:optimizeLegibility;fill:#262626;">48</text>
<rect x="327.94" y="506.30" width="5.25" height="16.40" fill="#2e4c82" stroke="#203c72" stroke-width="0.6"/>
<rect x="327.64" y="524.20" width="5.85" height="17.0" fill="#b1b1b1"/>
<text x="328.08" y="501.60" textLength="4.96" lengthAdjust="spacingAndGlyphs" style="font-size:4.85px;stroke:#262626;stroke-width:0.08px;text-rendering:optimizeLegibility;fill:#262626;">50</text>
<rect x="334.79" y="506.30" width="5.25" height="16.40" fill="#2e4c82" stroke="#203c72" stroke-width="0.6"/>
<rect x="334.49" y="524.20" width="5.85" height="17.0" fill="#b1b1b1"/>
<text x="334.95" y="501.60" textLength="4.96" lengthAdjust="spacingAndGlyphs" style="font-size:4.85px;stroke:#262626;stroke-width:0.08px;text-rendering:optimizeLegibility;fill:#262626;">52</text>
<rect x="341.63" y="506.30" width="5.25" height="16.40" fill="#2e4c82" stroke="#203c72" stroke-width="0.6"/>
<rect x="341.33" y="524.20" width="5.85" height="17.0" fill="#b1b1b1"/>
<text x="341.75" y="501.60" textLength="4.96" lengthAdjust="spacingAndGlyphs" style="font-size:4.85px;stroke:#262626;stroke-width:0.08px;text-rendering:optimizeLegibility;fill:#262626;">54</text>
<rect x="348.48" y="506.30" width="5.25" height="16.40" fill="#2e4c82" stroke="#203c72" stroke-width="0.6"/>
<rect x="348.18" y="524.20" width="5.85" height="17.0" fill="#b1b1b1"/>
<text x="348.63" y="501.60" textLength="4.96" lengthAdjust="spacingAndGlyphs" style="font-size:4.85px;stroke:#262626;stroke-width:0.08px;text-rendering:optimizeLegibility;fill:#262626;">58</text>
<rect x="355.32" y="506.30" width="5.25" height="16.40" fill="#2e4c82" stroke="#203c72" stroke-width="0.6"/>
<rect x="355.02" y="524.20" width="5.85" height="17.0" fill="#b1b1b1"/>
<text x="355.48" y="501.60" textLength="4.96" lengthAdjust="spacingAndGlyphs" style="font-size:4.85px;stroke:#262626;stroke-width:0.08px;text-rendering:optimizeLegibility;fill:#262626;">59</text>
<rect x="362.17" y="506.30" width="5.25" height="16.40" fill="#2e4c82" stroke="#203c72" stroke-width="0.6"/>
<rect x="361.87" y="524.20" width="5.85" height="17.0" fill="#b1b1b1"/>
<text x="362.28" y="501.60" textLength="4.96" lengthAdjust="spacingAndGlyphs" style="font-size:4.85px;stroke:#262626;stroke-width:0.08px;text-rendering:optimizeLegibility;fill:#262626;">60</text>
<rect x="369.01" y="506.30" width="5.25" height="16.40" fill="#2e4c82" stroke="#203c72" stroke-width="0.6"/>
<rect x="368.71" y="524.20" width="5.85" height="17.0" fill="#b1b1b1"/>
<text x="369.14" y="501.60" textLength="4.96" lengthAdjust="spacingAndGlyphs" style="font-size:4.85px;stroke:#262626;stroke-width:0.08px;text-rendering:optimizeLegibility;fill:#262626;">63</text>
<rect x="375.86" y="506.30" width="5.25" height="16.40" fill="#2e4c82" stroke="#203c72" stroke-width="0.6"/>
<rect x="375.56" y="524.20" width="5.85" height="17.0" fill="#b1b1b1"/>
<text x="375.98" y="501.60" textLength="4.96" lengthAdjust="spacingAndGlyphs" style="font-size:4.85px;stroke:#262626;stroke-width:0.08px;text-rendering:optimizeLegibility;fill:#262626;">66</text>
<rect x="382.70" y="506.30" width="5.25" height="16.40" fill="#2e4c82" stroke="#203c72" stroke-width="0.6"/>
<rect x="382.40" y="524.20" width="5.85" height="17.0" fill="#b1b1b1"/>
<text x="382.84" y="501.60" textLength="4.96" lengthAdjust="spacingAndGlyphs" style="font-size:4.85px;stroke:#262626;stroke-width:0.08px;text-rendering:optimizeLegibility;fill:#262626;">67</text>
<rect x="389.55" y="506.30" width="5.25" height="16.40" fill="#2e4c82" stroke="#203c72" stroke-width="0.6"/>
<rect x="389.25" y="524.20" width="5.85" height="17.0" fill="#b1b1b1"/>
<text x="389.68" y="501.60" textLength="4.96" lengthAdjust="spacingAndGlyphs" style="font-size:4.85px;stroke:#262626;stroke-width:0.08px;text-rendering:optimizeLegibility;fill:#262626;">71</text>
<rect x="396.39" y="506.30" width="5.25" height="16.40" fill="#2e4c82" stroke="#203c72" stroke-width="0.6"/>
<rect x="396.09" y="524.20" width="5.85" height="17.0" fill="#b1b1b1"/>
<text x="396.52" y="501.60" textLength="4.96" lengthAdjust="spacingAndGlyphs" style="font-size:4.85px;stroke:#262626;stroke-width:0.08px;text-rendering:optimizeLegibility;fill:#262626;">73</text>
<rect x="403.24" y="506.30" width="5.25" height="16.40" fill="#2e4c82" stroke="#203c72" stroke-width="0.6"/>
<rect x="402.94" y="524.20" width="5.85" height="17.0" fill="#b1b1b1"/>
<text x="403.36" y="501.60" textLength="4.96" lengthAdjust="spacingAndGlyphs" style="font-size:4.85px;stroke:#262626;stroke-width:0.08px;text-rendering:optimizeLegibility;fill:#262626;">75</text>
<rect x="410.08" y="506.30" width="5.25" height="16.40" fill="#2e4c82" stroke="#203c72" stroke-width="0.6"/>
<rect x="409.78" y="524.20" width="5.85" height="17.0" fill="#b1b1b1"/>
<text x="410.21" y="501.60" textLength="4.96" lengthAdjust="spacingAndGlyphs" style="font-size:4.85px;stroke:#262626;stroke-width:0.08px;text-rendering:optimizeLegibility;fill:#262626;">76</text>
<rect x="416.93" y="506.30" width="5.25" height="16.40" fill="#2e4c82" stroke="#203c72" stroke-width="0.6"/>
<rect x="416.62" y="524.20" width="5.85" height="17.0" fill="#b1b1b1"/>
<text x="417.06" y="501.60" textLength="4.96" lengthAdjust="spacingAndGlyphs" style="font-size:4.85px;stroke:#262626;stroke-width:0.08px;text-rendering:optimizeLegibility;fill:#262626;">80</text>
<rect x="423.77" y="506.30" width="5.25" height="16.40" fill="#2e4c82" stroke="#203c72" stroke-width="0.6"/>
<rect x="423.47" y="524.20" width="5.85" height="17.0" fill="#b1b1b1"/>
<text x="423.93" y="501.60" textLength="4.96" lengthAdjust="spacingAndGlyphs" style="font-size:4.85px;stroke:#262626;stroke-width:0.08px;text-rendering:optimizeLegibility;fill:#262626;">81</text>
<rect x="430.62" y="506.30" width="5.25" height="16.40" fill="#2e4c82" stroke="#203c72" stroke-width="0.6"/>
<rect x="430.31" y="524.20" width="5.85" height="17.0" fill="#b1b1b1"/>
<text x="430.73" y="501.60" textLength="4.96" lengthAdjust="spacingAndGlyphs" style="font-size:4.85px;stroke:#262626;stroke-width:0.08px;text-rendering:optimizeLegibility;fill:#262626;">84</text>
<rect x="437.46" y="506.30" width="5.25" height="16.40" fill="#2e4c82" stroke="#203c72" stroke-width="0.6"/>
<rect x="437.16" y="524.20" width="5.85" height="17.0" fill="#b1b1b1"/>
<text x="437.60" y="501.60" textLength="4.96" lengthAdjust="spacingAndGlyphs" style="font-size:4.85px;stroke:#262626;stroke-width:0.08px;text-rendering:optimizeLegibility;fill:#262626;">85</text>
<rect x="444.31" y="506.30" width="5.25" height="16.40" fill="#2e4c82" stroke="#203c72" stroke-width="0.6"/>
<rect x="444.00" y="524.20" width="5.85" height="17.0" fill="#b1b1b1"/>
<text x="444.46" y="501.60" textLength="4.96" lengthAdjust="spacingAndGlyphs" style="font-size:4.85px;stroke:#262626;stroke-width:0.08px;text-rendering:optimizeLegibility;fill:#262626;">92</text>
<rect x="451.15" y="506.30" width="5.25" height="16.40" fill="#2e4c82" stroke="#203c72" stroke-width="0.6"/>
<rect x="450.85" y="524.20" width="5.85" height="17.0" fill="#b1b1b1"/>
<text x="451.29" y="501.60" textLength="4.96" lengthAdjust="spacingAndGlyphs" style="font-size:4.85px;stroke:#262626;stroke-width:0.08px;text-rendering:optimizeLegibility;fill:#262626;">93</text>
<rect x="458.00" y="506.30" width="5.25" height="16.40" fill="#2e4c82" stroke="#203c72" stroke-width="0.6"/>
<rect x="457.69" y="524.20" width="5.85" height="17.0" fill="#b1b1b1"/>
<text x="458.10" y="501.60" textLength="4.96" lengthAdjust="spacingAndGlyphs" style="font-size:4.85px;stroke:#262626;stroke-width:0.08px;text-rendering:optimizeLegibility;fill:#262626;">94</text>
<rect x="464.54" y="506.00" width="5.85" height="17.0" fill="#b1b1b1"/>
<rect x="464.84" y="524.50" width="5.25" height="16.40" fill="#a8002c" stroke="#940026" stroke-width="0.6"/>
<text x="464.98" y="501.60" textLength="4.96" lengthAdjust="spacingAndGlyphs" style="font-size:4.85px;stroke:#262626;stroke-width:0.08px;text-rendering:optimizeLegibility;fill:#262626;">29</text>
<rect x="471.38" y="506.00" width="5.85" height="17.0" fill="#b1b1b1"/>
<rect x="471.69" y="524.50" width="5.25" height="16.40" fill="#a8002c" stroke="#940026" stroke-width="0.6"/>
<text x="471.83" y="501.60" textLength="4.96" lengthAdjust="spacingAndGlyphs" style="font-size:4.85px;stroke:#262626;stroke-width:0.08px;text-rendering:optimizeLegibility;fill:#262626;">30</text>
<rect x="478.23" y="506.00" width="5.85" height="17.0" fill="#b1b1b1"/>
<rect x="478.53" y="524.50" width="5.25" height="16.40" fill="#a8002c" stroke="#940026" stroke-width="0.6"/>
<text x="478.70" y="501.60" textLength="4.96" lengthAdjust="spacingAndGlyphs" style="font-size:4.85px;stroke:#262626;stroke-width:0.08px;text-rendering:optimizeLegibility;fill:#262626;">37</text>
<rect x="485.07" y="506.00" width="5.85" height="17.0" fill="#b1b1b1"/>
<rect x="485.38" y="524.50" width="5.25" height="16.40" fill="#a8002c" stroke="#940026" stroke-width="0.6"/>
<text x="485.51" y="501.60" textLength="4.96" lengthAdjust="spacingAndGlyphs" style="font-size:4.85px;stroke:#262626;stroke-width:0.08px;text-rendering:optimizeLegibility;fill:#262626;">61</text>
<rect x="491.92" y="506.00" width="5.85" height="17.0" fill="#b1b1b1"/>
<rect x="492.22" y="524.50" width="5.25" height="16.40" fill="#a8002c" stroke="#940026" stroke-width="0.6"/>
<text x="492.36" y="501.60" textLength="4.96" lengthAdjust="spacingAndGlyphs" style="font-size:4.85px;stroke:#262626;stroke-width:0.08px;text-rendering:optimizeLegibility;fill:#262626;">83</text>
<text x="176.58" y="492.30" textLength="29.61" lengthAdjust="spacingAndGlyphs" style="font-size:8.14px;">CFU_ID</text>
<text x="146.37" y="502.40" textLength="15.45" lengthAdjust="spacingAndGlyphs" style="font-size:8.43px;stroke-width:0.25px;">VAF</text>
<text x="17.30" y="517.10" textLength="16.43" lengthAdjust="spacingAndGlyphs" style="font-size:8.50px;stroke:#000;font-weight:bold;fill:#000;">D39</text>
<text x="34.86" y="516.40" textLength="2.39" lengthAdjust="spacingAndGlyphs" style="font-size:8.30px;stroke-width:0.3px;">(</text>
<text x="37.19" y="517.10" textLength="19.33" lengthAdjust="spacingAndGlyphs" style="font-size:8.50px;stroke-width:0.3px;font-style:italic;">TET2</text>
<text x="58.33" y="513.90" textLength="21.58" lengthAdjust="spacingAndGlyphs" style="font-size:6.40px;stroke-width:0.2px;">S1668fs</text>
<text x="80.06" y="516.40" textLength="2.39" lengthAdjust="spacingAndGlyphs" style="font-size:8.30px;stroke-width:0.3px;">)</text>
<text x="35.36" y="534.50" textLength="2.39" lengthAdjust="spacingAndGlyphs" style="font-size:8.30px;stroke-width:0.3px;">(</text>
<text x="37.95" y="535.20" textLength="28.22" lengthAdjust="spacingAndGlyphs" style="font-size:8.50px;stroke-width:0.3px;font-style:italic;">PPM1D</text>
<text x="67.13" y="532.00" textLength="15.86" lengthAdjust="spacingAndGlyphs" style="font-size:6.40px;stroke-width:0.2px;">R552*</text>
<text x="83.86" y="534.50" textLength="2.39" lengthAdjust="spacingAndGlyphs" style="font-size:8.30px;stroke-width:0.3px;">)</text>
<text x="143.31" y="517.10" style="font-size:8.40px;stroke-width:0.25px;">0.143</text>
<text x="143.34" y="535.20" style="font-size:8.40px;stroke-width:0.25px;">0.037</text>
<rect x="422.2" y="227.20" width="13.8" height="18.4" fill="#fff"/>
<rect x="422.9" y="228.00" width="5.6" height="16.8" fill="#2e4c82"/>
<rect x="429.5" y="228.00" width="5.8" height="16.8" fill="#a8002c"/>
<text x="438.74" y="239.10" textLength="47.57" lengthAdjust="spacingAndGlyphs" style="font-size:8.29px;stroke-width:0.15px;">Mutated CFU</text>
<rect x="428.8" y="252.20" width="7.2" height="18.4" fill="#fff"/>
<rect x="429.5" y="253.00" width="5.8" height="16.8" fill="#b1b1b1"/>
<text x="439.37" y="264.00" textLength="50.43" lengthAdjust="spacingAndGlyphs" style="font-size:8.29px;stroke-width:0.15px;">Wild-type CFU</text>
</svg>
</body></html>
